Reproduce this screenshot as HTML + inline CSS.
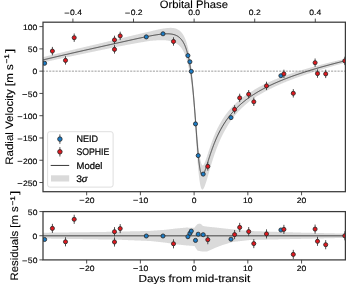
<!DOCTYPE html><html><head><meta charset="utf-8"><style>html,body{margin:0;padding:0;background:#fff;width:346px;height:284px;overflow:hidden}svg{display:block}text{font-family:"Liberation Sans",sans-serif;fill:#000;stroke:#000;stroke-width:0.22px;text-rendering:geometricPrecision}svg{will-change:transform}</style></head><body>
<svg width="346" height="284" viewBox="0 0 346 284">
<defs><clipPath id="cm"><rect x="43.0" y="22.2" width="302.4" height="169.5"/></clipPath><clipPath id="cr"><rect x="43.0" y="211.6" width="302.4" height="48.29999999999998"/></clipPath></defs>
<g clip-path="url(#cm)">
<polygon points="43.00,57.14 43.46,57.03 43.92,56.91 44.37,56.79 44.83,56.67 45.29,56.56 45.75,56.44 46.21,56.32 46.67,56.21 47.12,56.09 47.58,55.98 48.04,55.86 48.50,55.74 48.96,55.63 49.41,55.51 49.87,55.40 50.33,55.28 50.79,55.17 51.25,55.05 51.71,54.94 52.16,54.83 52.62,54.71 53.08,54.60 53.54,54.48 54.00,54.37 54.45,54.26 54.91,54.14 55.37,54.03 55.83,53.92 56.29,53.80 56.75,53.69 57.20,53.58 57.66,53.47 58.12,53.35 58.58,53.24 59.04,53.13 59.49,53.02 59.95,52.91 60.41,52.79 60.87,52.68 61.33,52.57 61.79,52.46 62.24,52.35 62.70,52.24 63.16,52.13 63.62,52.02 64.08,51.90 64.54,51.79 64.99,51.68 65.45,51.57 65.91,51.46 66.37,51.35 66.83,51.24 67.28,51.13 67.74,51.02 68.20,50.91 68.66,50.80 69.12,50.69 69.58,50.58 70.03,50.47 70.49,50.36 70.95,50.25 71.41,50.14 71.87,50.03 72.32,49.93 72.78,49.82 73.24,49.71 73.70,49.60 74.16,49.49 74.62,49.38 75.07,49.27 75.53,49.16 75.99,49.05 76.45,48.95 76.91,48.84 77.36,48.73 77.82,48.62 78.28,48.51 78.74,48.40 79.20,48.30 79.66,48.19 80.11,48.08 80.57,47.97 81.03,47.86 81.49,47.76 81.95,47.65 82.40,47.54 82.86,47.43 83.32,47.32 83.78,47.22 84.24,47.11 84.70,47.00 85.15,46.89 85.61,46.79 86.07,46.68 86.53,46.57 86.99,46.46 87.44,46.36 87.90,46.25 88.36,46.14 88.82,46.03 89.28,45.93 89.74,45.82 90.19,45.71 90.65,45.60 91.11,45.50 91.57,45.39 92.03,45.28 92.48,45.17 92.94,45.07 93.40,44.96 93.86,44.85 94.32,44.75 94.78,44.64 95.23,44.53 95.69,44.43 96.15,44.32 96.61,44.21 97.07,44.10 97.53,44.00 97.98,43.89 98.44,43.78 98.90,43.68 99.36,43.57 99.82,43.46 100.27,43.35 100.73,43.24 101.19,43.13 101.65,43.02 102.11,42.91 102.57,42.80 103.02,42.69 103.48,42.58 103.94,42.47 104.40,42.36 104.86,42.25 105.31,42.14 105.77,42.03 106.23,41.92 106.69,41.81 107.15,41.70 107.61,41.59 108.06,41.48 108.52,41.37 108.98,41.26 109.44,41.15 109.90,41.04 110.35,40.93 110.81,40.81 111.27,40.70 111.73,40.59 112.19,40.48 112.65,40.37 113.10,40.26 113.56,40.15 114.02,40.04 114.48,39.93 114.94,39.82 115.39,39.71 115.85,39.60 116.31,39.49 116.77,39.38 117.23,39.27 117.69,39.16 118.14,39.05 118.60,38.94 119.06,38.83 119.52,38.72 119.98,38.61 120.43,38.49 120.89,38.38 121.35,38.27 121.81,38.16 122.27,38.05 122.73,37.93 123.18,37.82 123.64,37.71 124.10,37.60 124.56,37.49 125.02,37.37 125.47,37.26 125.93,37.15 126.39,37.04 126.85,36.93 127.31,36.82 127.77,36.70 128.22,36.59 128.68,36.48 129.14,36.37 129.60,36.26 130.06,36.15 130.52,36.04 130.97,35.93 131.43,35.81 131.89,35.70 132.35,35.59 132.81,35.48 133.26,35.37 133.72,35.26 134.18,35.15 134.64,35.04 135.10,34.93 135.56,34.82 136.01,34.71 136.47,34.60 136.93,34.49 137.39,34.38 137.85,34.27 138.30,34.16 138.76,34.05 139.22,33.94 139.68,33.84 140.14,33.73 140.60,33.62 141.05,33.51 141.51,33.40 141.97,33.30 142.43,33.19 142.89,33.08 143.34,32.98 143.80,32.87 144.26,32.77 144.72,32.66 145.18,32.56 145.64,32.45 146.09,32.35 146.55,32.25 147.01,32.14 147.47,32.04 147.93,31.94 148.38,31.84 148.84,31.74 149.30,31.64 149.76,31.54 150.22,31.43 150.68,31.31 151.13,31.20 151.59,31.08 152.05,30.96 152.51,30.85 152.97,30.74 153.42,30.62 153.88,30.51 154.34,30.40 154.80,30.29 155.26,30.18 155.72,30.08 156.17,29.97 156.63,29.87 157.09,29.76 157.55,29.66 158.01,29.56 158.46,29.47 158.92,29.37 159.38,29.28 159.84,29.19 160.30,29.10 160.76,29.01 161.21,28.93 161.67,28.85 162.13,28.77 162.59,28.70 163.05,28.62 163.51,28.55 163.96,28.49 164.42,28.43 164.88,28.37 165.34,28.30 165.80,28.23 166.25,28.17 166.71,28.11 167.17,28.06 167.63,28.01 168.09,27.97 168.55,27.93 169.00,27.90 169.46,27.88 169.92,27.86 170.38,27.85 170.84,27.85 171.29,27.86 171.75,27.88 172.21,27.91 172.67,27.95 173.13,28.00 173.59,28.07 174.04,28.14 174.50,28.23 174.96,28.34 175.42,28.46 175.88,28.60 176.33,28.77 176.79,28.96 177.25,29.17 177.71,29.40 178.17,29.66 178.63,29.95 179.08,30.26 179.54,30.60 180.00,30.98 180.00,30.98 180.05,31.03 180.10,31.07 180.15,31.12 180.20,31.16 180.25,31.21 180.30,31.25 180.35,31.30 180.40,31.34 180.45,31.39 180.50,31.44 180.55,31.49 180.60,31.54 180.65,31.58 180.70,31.63 180.75,31.68 180.80,31.74 180.85,31.79 180.90,31.84 180.95,31.89 181.00,31.94 181.05,32.00 181.10,32.05 181.15,32.10 181.20,32.16 181.25,32.21 181.30,32.27 181.35,32.33 181.40,32.38 181.45,32.44 181.50,32.50 181.55,32.56 181.60,32.62 181.65,32.67 181.70,32.74 181.75,32.80 181.80,32.86 181.85,32.92 181.90,32.98 181.95,33.05 182.00,33.11 182.05,33.17 182.10,33.24 182.15,33.31 182.20,33.37 182.25,33.44 182.30,33.51 182.35,33.57 182.40,33.64 182.45,33.71 182.50,33.78 182.55,33.86 182.60,33.93 182.65,34.00 182.70,34.07 182.75,34.15 182.80,34.22 182.85,34.30 182.90,34.37 182.95,34.45 183.00,34.53 183.05,34.61 183.10,34.68 183.15,34.76 183.20,34.84 183.25,34.93 183.30,35.01 183.35,35.09 183.40,35.18 183.45,35.26 183.51,35.35 183.56,35.43 183.61,35.52 183.66,35.61 183.71,35.70 183.76,35.78 183.81,35.88 183.86,35.97 183.91,36.06 183.96,36.15 184.01,36.25 184.06,36.34 184.11,36.44 184.16,36.53 184.21,36.63 184.26,36.73 184.31,36.83 184.36,36.93 184.41,37.03 184.46,37.13 184.51,37.24 184.56,37.34 184.61,37.45 184.66,37.55 184.71,37.66 184.76,37.77 184.81,37.88 184.86,37.99 184.91,38.10 184.96,38.22 185.01,38.33 185.06,38.45 185.11,38.56 185.16,38.68 185.21,38.80 185.26,38.92 185.31,39.04 185.36,39.16 185.41,39.28 185.46,39.41 185.51,39.53 185.56,39.66 185.61,39.79 185.66,39.92 185.71,40.05 185.76,40.18 185.81,40.31 185.86,40.45 185.91,40.59 185.96,40.72 186.01,40.86 186.06,41.01 186.11,41.15 186.16,41.30 186.21,41.45 186.26,41.60 186.31,41.75 186.36,41.90 186.41,42.06 186.46,42.21 186.51,42.37 186.56,42.53 186.61,42.69 186.66,42.85 186.71,43.02 186.76,43.18 186.81,43.35 186.86,43.52 186.91,43.69 186.96,43.86 187.01,44.03 187.06,44.21 187.11,44.38 187.16,44.56 187.21,44.74 187.26,44.92 187.31,45.10 187.36,45.29 187.41,45.48 187.46,45.67 187.51,45.86 187.56,46.05 187.61,46.24 187.66,46.44 187.71,46.64 187.76,46.84 187.81,47.04 187.86,47.24 187.91,47.45 187.96,47.66 188.01,47.86 188.06,48.08 188.11,48.29 188.16,48.51 188.21,48.72 188.26,48.94 188.31,49.17 188.36,49.39 188.41,49.62 188.46,49.85 188.51,50.08 188.56,50.31 188.61,50.55 188.66,50.78 188.71,51.02 188.76,51.27 188.81,51.51 188.86,51.76 188.91,52.01 188.96,52.26 189.01,52.51 189.06,52.77 189.11,53.03 189.16,53.29 189.21,53.55 189.26,53.82 189.31,54.09 189.36,54.36 189.41,54.64 189.46,54.92 189.51,55.20 189.56,55.48 189.61,55.76 189.66,56.05 189.71,56.34 189.76,56.64 189.81,56.93 189.86,57.23 189.91,57.53 189.96,57.84 190.01,58.15 190.06,58.46 190.11,58.77 190.16,59.09 190.21,59.41 190.26,59.73 190.31,60.06 190.36,60.39 190.41,60.72 190.46,61.06 190.52,61.40 190.57,61.74 190.62,62.08 190.67,62.43 190.72,62.78 190.77,63.14 190.82,63.50 190.87,63.86 190.92,64.23 190.97,64.59 191.02,64.97 191.07,65.34 191.12,65.72 191.17,66.10 191.22,66.49 191.27,66.88 191.32,67.27 191.37,67.67 191.42,68.07 191.47,68.47 191.52,68.88 191.57,69.29 191.62,69.71 191.67,70.13 191.72,70.55 191.77,70.97 191.82,71.40 191.87,71.84 191.92,72.28 191.97,72.72 192.02,73.16 192.07,73.61 192.12,74.07 192.17,74.52 192.22,74.98 192.27,75.45 192.32,75.92 192.37,76.39 192.42,76.87 192.47,77.35 192.52,77.83 192.57,78.32 192.62,78.81 192.67,79.31 192.72,79.81 192.77,80.31 192.82,80.82 192.87,81.33 192.92,81.85 192.97,82.37 193.02,82.89 193.07,83.42 193.12,83.95 193.17,84.49 193.22,85.03 193.27,85.57 193.32,86.12 193.37,86.67 193.42,87.23 193.47,87.79 193.52,88.35 193.57,88.92 193.62,89.49 193.67,90.06 193.72,90.64 193.77,91.22 193.82,91.81 193.87,92.40 193.92,92.99 193.97,93.58 194.02,94.18 194.07,94.79 194.12,95.39 194.17,96.00 194.22,96.62 194.27,97.23 194.32,97.85 194.37,98.48 194.42,99.10 194.47,99.73 194.52,100.34 194.57,100.91 194.62,101.48 194.67,102.05 194.72,102.63 194.77,103.21 194.82,103.79 194.87,104.37 194.92,104.96 194.97,105.55 195.02,106.14 195.07,106.73 195.12,107.33 195.17,107.92 195.22,108.52 195.27,109.12 195.32,109.73 195.37,110.33 195.42,110.93 195.47,111.54 195.52,112.15 195.57,112.75 195.62,113.36 195.67,113.97 195.72,114.59 195.77,115.22 195.82,115.85 195.87,116.47 195.92,117.10 195.97,117.73 196.02,118.36 196.07,118.98 196.12,119.61 196.17,120.24 196.22,120.86 196.27,121.49 196.32,122.11 196.37,122.73 196.42,123.35 196.47,123.97 196.52,124.59 196.57,125.21 196.62,125.82 196.67,126.43 196.72,127.04 196.77,127.65 196.82,128.26 196.87,128.86 196.92,129.46 196.97,130.05 197.02,130.65 197.07,131.24 197.12,131.82 197.17,132.40 197.22,132.98 197.27,133.56 197.32,134.13 197.37,134.70 197.42,135.28 197.47,135.87 197.53,136.45 197.58,137.04 197.63,137.61 197.68,138.19 197.73,138.75 197.78,139.32 197.83,139.87 197.88,140.43 197.93,140.97 197.98,141.51 198.03,142.05 198.08,142.57 198.13,143.10 198.18,143.61 198.23,144.12 198.28,144.63 198.33,145.12 198.38,145.62 198.43,146.10 198.48,146.58 198.53,147.05 198.58,147.51 198.63,147.97 198.68,148.42 198.73,148.86 198.78,149.30 198.83,149.73 198.88,150.15 198.93,150.57 198.98,150.97 199.03,151.37 199.08,151.77 199.13,152.15 199.18,152.53 199.23,152.92 199.28,153.31 199.33,153.69 199.38,154.06 199.43,154.43 199.48,154.79 199.53,155.14 199.58,155.49 199.63,155.83 199.68,156.16 199.73,156.48 199.78,156.80 199.83,157.10 199.88,157.40 199.93,157.70 199.98,157.98 200.03,158.26 200.08,158.54 200.13,158.80 200.18,159.06 200.23,159.31 200.28,159.55 200.33,159.79 200.38,160.02 200.43,160.24 200.48,160.46 200.53,160.67 200.58,160.87 200.63,161.07 200.68,161.26 200.73,161.44 200.78,161.61 200.83,161.78 200.88,161.95 200.93,162.11 200.98,162.26 201.03,162.42 201.08,162.60 201.13,162.77 201.18,162.93 201.23,163.09 201.28,163.24 201.33,163.39 201.38,163.53 201.43,163.66 201.48,163.79 201.53,163.91 201.58,164.03 201.63,164.14 201.68,164.25 201.73,164.36 201.78,164.45 201.83,164.55 201.88,164.63 201.93,164.72 201.98,164.80 202.03,164.87 202.08,164.94 202.13,165.01 202.18,165.07 202.23,165.12 202.28,165.17 202.33,165.22 202.38,165.27 202.43,165.30 202.48,165.34 202.53,165.37 202.58,165.40 202.63,165.42 202.68,165.45 202.73,165.46 202.78,165.48 202.83,165.49 202.88,165.49 202.93,165.50 202.98,165.50 203.03,165.47 203.08,165.42 203.13,165.37 203.18,165.32 203.23,165.26 203.28,165.21 203.33,165.15 203.38,165.08 203.43,165.02 203.48,164.95 203.53,164.88 203.58,164.80 203.63,164.73 203.68,164.65 203.73,164.57 203.78,164.48 203.83,164.40 203.88,164.31 203.93,164.22 203.98,164.13 204.03,164.03 204.08,163.94 204.13,163.84 204.18,163.74 204.23,163.64 204.28,163.54 204.33,163.43 204.38,163.32 204.43,163.21 204.48,163.10 204.54,162.99 204.59,162.88 204.64,162.76 204.69,162.65 204.74,162.53 204.79,162.41 204.84,162.29 204.89,162.17 204.94,162.05 204.99,161.92 205.04,161.80 205.09,161.67 205.14,161.54 205.19,161.41 205.24,161.28 205.29,161.15 205.34,161.02 205.39,160.89 205.44,160.76 205.49,160.62 205.54,160.49 205.59,160.35 205.64,160.21 205.69,160.07 205.74,159.94 205.79,159.80 205.84,159.66 205.89,159.51 205.94,159.37 205.99,159.23 206.04,159.09 206.09,158.95 206.14,158.80 206.19,158.66 206.24,158.51 206.29,158.37 206.34,158.22 206.39,158.08 206.44,157.93 206.49,157.78 206.54,157.63 206.59,157.49 206.64,157.34 206.69,157.19 206.74,157.04 206.79,156.89 206.84,156.74 206.89,156.59 206.94,156.44 206.99,156.29 207.04,156.14 207.09,155.99 207.14,155.83 207.19,155.68 207.24,155.53 207.29,155.38 207.34,155.22 207.39,155.07 207.44,154.92 207.49,154.76 207.54,154.61 207.59,154.46 207.64,154.30 207.69,154.15 207.74,153.99 207.79,153.84 207.84,153.69 207.89,153.53 207.94,153.38 207.99,153.22 208.04,153.07 208.09,152.92 208.14,152.76 208.19,152.61 208.24,152.46 208.29,152.30 208.34,152.15 208.39,151.99 208.44,151.84 208.49,151.69 208.54,151.53 208.59,151.38 208.64,151.23 208.69,151.08 208.74,150.92 208.79,150.77 208.84,150.62 208.89,150.47 208.94,150.31 208.99,150.16 209.04,150.01 209.09,149.86 209.14,149.71 209.19,149.56 209.24,149.40 209.29,149.25 209.34,149.10 209.39,148.95 209.44,148.80 209.49,148.65 209.54,148.50 209.59,148.35 209.64,148.20 209.69,148.05 209.74,147.90 209.79,147.76 209.84,147.61 209.89,147.46 209.94,147.31 209.99,147.16 210.04,147.02 210.09,146.87 210.14,146.72 210.19,146.58 210.24,146.43 210.29,146.28 210.34,146.14 210.39,145.99 210.44,145.85 210.49,145.70 210.54,145.56 210.59,145.41 210.64,145.26 210.69,145.12 210.74,144.98 210.79,144.83 210.84,144.69 210.89,144.54 210.94,144.40 210.99,144.26 211.04,144.11 211.09,143.97 211.14,143.83 211.19,143.69 211.24,143.54 211.29,143.40 211.34,143.26 211.39,143.12 211.44,142.98 211.49,142.84 211.55,142.70 211.60,142.56 211.65,142.42 211.70,142.28 211.75,142.15 211.80,142.01 211.85,141.87 211.90,141.73 211.95,141.59 212.00,141.46 212.05,141.32 212.10,141.18 212.15,141.05 212.20,140.91 212.25,140.78 212.30,140.64 212.35,140.51 212.40,140.37 212.45,140.24 212.50,140.11 212.55,139.97 212.60,139.84 212.65,139.71 212.70,139.57 212.75,139.44 212.80,139.31 212.85,139.18 212.90,139.05 212.95,138.92 213.00,138.79 213.05,138.66 213.10,138.53 213.15,138.40 213.20,138.27 213.25,138.14 213.30,138.01 213.35,137.88 213.40,137.75 213.45,137.63 213.50,137.50 213.55,137.37 213.60,137.25 213.65,137.12 213.70,136.99 213.75,136.87 213.80,136.74 213.85,136.62 213.90,136.49 213.95,136.37 214.00,136.24 214.05,136.12 214.10,136.00 214.15,135.87 214.20,135.75 214.25,135.63 214.30,135.51 214.35,135.38 214.40,135.26 214.45,135.14 214.50,135.02 214.55,134.90 214.60,134.78 214.65,134.66 214.70,134.54 214.75,134.42 214.80,134.30 214.85,134.18 214.90,134.07 214.95,133.95 215.00,133.83 215.00,133.83 215.44,132.82 215.87,131.83 216.31,130.87 216.74,129.93 217.18,129.02 217.62,128.12 218.05,127.25 218.49,126.40 218.93,125.56 219.36,124.75 219.80,123.95 220.23,123.17 220.67,122.40 221.11,121.66 221.54,120.93 221.98,120.21 222.41,119.51 222.85,118.82 223.29,118.14 223.72,117.48 224.16,116.83 224.59,116.19 225.03,115.57 225.47,114.96 225.90,114.36 226.34,113.77 226.78,113.20 227.21,112.63 227.65,112.07 228.08,111.53 228.52,110.99 228.96,110.47 229.39,109.95 229.83,109.44 230.26,108.95 230.70,108.46 231.14,107.97 231.57,107.50 232.01,107.03 232.44,106.58 232.88,106.13 233.32,105.68 233.75,105.24 234.19,104.80 234.63,104.37 235.06,103.95 235.50,103.54 235.93,103.13 236.37,102.72 236.81,102.33 237.24,101.94 237.68,101.55 238.11,101.17 238.55,100.80 238.99,100.43 239.42,100.06 239.86,99.71 240.29,99.35 240.73,99.00 241.17,98.66 241.60,98.32 242.04,97.98 242.48,97.65 242.91,97.33 243.35,97.00 243.78,96.69 244.22,96.37 244.66,96.06 245.09,95.75 245.53,95.45 245.96,95.15 246.40,94.86 246.84,94.57 247.27,94.28 247.71,93.99 248.15,93.71 248.58,93.43 249.02,93.16 249.45,92.89 249.89,92.62 250.33,92.34 250.76,92.05 251.20,91.76 251.63,91.48 252.07,91.20 252.51,90.93 252.94,90.65 253.38,90.38 253.81,90.11 254.25,89.85 254.69,89.59 255.12,89.32 255.56,89.07 256.00,88.81 256.43,88.56 256.87,88.31 257.30,88.06 257.74,87.81 258.18,87.57 258.61,87.32 259.05,87.08 259.48,86.85 259.92,86.61 260.36,86.38 260.79,86.14 261.23,85.91 261.66,85.69 262.10,85.46 262.54,85.23 262.97,85.01 263.41,84.79 263.85,84.57 264.28,84.36 264.72,84.14 265.15,83.93 265.59,83.71 266.03,83.50 266.46,83.29 266.90,83.09 267.33,82.88 267.77,82.68 268.21,82.47 268.64,82.27 269.08,82.07 269.52,81.87 269.95,81.68 270.39,81.48 270.82,81.29 271.26,81.10 271.70,80.90 272.13,80.71 272.57,80.53 273.00,80.34 273.44,80.15 273.88,79.97 274.31,79.78 274.75,79.60 275.18,79.42 275.62,79.24 276.06,79.06 276.49,78.88 276.93,78.71 277.37,78.53 277.80,78.36 278.24,78.18 278.67,78.01 279.11,77.84 279.55,77.67 279.98,77.50 280.42,77.33 280.85,77.17 281.29,77.00 281.73,76.84 282.16,76.67 282.60,76.51 283.03,76.35 283.47,76.19 283.91,76.03 284.34,75.87 284.78,75.71 285.22,75.55 285.65,75.40 286.09,75.24 286.52,75.08 286.96,74.93 287.40,74.78 287.83,74.63 288.27,74.47 288.70,74.32 289.14,74.17 289.58,74.02 290.01,73.88 290.45,73.73 290.88,73.58 291.32,73.44 291.76,73.29 292.19,73.15 292.63,73.00 293.07,72.86 293.50,72.72 293.94,72.57 294.37,72.43 294.81,72.29 295.25,72.15 295.68,72.01 296.12,71.88 296.55,71.74 296.99,71.60 297.43,71.47 297.86,71.33 298.30,71.19 298.74,71.06 299.17,70.93 299.61,70.79 300.04,70.66 300.48,70.52 300.92,70.39 301.35,70.25 301.79,70.12 302.22,69.98 302.66,69.85 303.10,69.72 303.53,69.59 303.97,69.46 304.40,69.32 304.84,69.19 305.28,69.06 305.71,68.93 306.15,68.81 306.59,68.68 307.02,68.55 307.46,68.42 307.89,68.29 308.33,68.17 308.77,68.04 309.20,67.92 309.64,67.79 310.07,67.67 310.51,67.54 310.95,67.42 311.38,67.30 311.82,67.17 312.25,67.05 312.69,66.93 313.13,66.81 313.56,66.69 314.00,66.57 314.44,66.44 314.87,66.33 315.31,66.21 315.74,66.09 316.18,65.97 316.62,65.85 317.05,65.73 317.49,65.61 317.92,65.50 318.36,65.38 318.80,65.26 319.23,65.15 319.67,65.03 320.11,64.92 320.54,64.80 320.98,64.69 321.41,64.57 321.85,64.46 322.29,64.35 322.72,64.23 323.16,64.12 323.59,64.01 324.03,63.90 324.47,63.79 324.90,63.67 325.34,63.56 325.77,63.45 326.21,63.34 326.65,63.23 327.08,63.12 327.52,63.01 327.96,62.90 328.39,62.79 328.83,62.69 329.26,62.58 329.70,62.47 330.14,62.36 330.57,62.25 331.01,62.15 331.44,62.04 331.88,61.93 332.32,61.83 332.75,61.72 333.19,61.61 333.62,61.51 334.06,61.40 334.50,61.30 334.93,61.19 335.37,61.09 335.81,60.98 336.24,60.88 336.68,60.78 337.11,60.67 337.55,60.57 337.99,60.47 338.42,60.36 338.86,60.26 339.29,60.16 339.73,60.06 340.17,59.95 340.60,59.85 341.04,59.75 341.47,59.65 341.91,59.55 342.35,59.45 342.78,59.35 343.22,59.25 343.66,59.15 344.09,59.05 344.53,58.95 344.96,58.85 345.40,58.74 345.40,62.74 344.96,62.85 344.53,62.96 344.09,63.08 343.66,63.20 343.22,63.32 342.78,63.44 342.35,63.55 341.91,63.67 341.47,63.79 341.04,63.91 340.60,64.03 340.17,64.15 339.73,64.27 339.29,64.39 338.86,64.51 338.42,64.63 337.99,64.75 337.55,64.87 337.11,65.00 336.68,65.12 336.24,65.24 335.81,65.36 335.37,65.48 334.93,65.61 334.50,65.73 334.06,65.85 333.62,65.98 333.19,66.10 332.75,66.22 332.32,66.35 331.88,66.47 331.44,66.60 331.01,66.72 330.57,66.85 330.14,66.97 329.70,67.10 329.26,67.22 328.83,67.35 328.39,67.48 327.96,67.60 327.52,67.73 327.08,67.86 326.65,67.99 326.21,68.11 325.77,68.24 325.34,68.37 324.90,68.50 324.47,68.63 324.03,68.76 323.59,68.89 323.16,69.02 322.72,69.15 322.29,69.28 321.85,69.41 321.41,69.55 320.98,69.68 320.54,69.81 320.11,69.94 319.67,70.08 319.23,70.21 318.80,70.34 318.36,70.48 317.92,70.61 317.49,70.75 317.05,70.88 316.62,71.02 316.18,71.16 315.74,71.29 315.31,71.43 314.87,71.57 314.44,71.70 314.00,71.84 313.56,71.98 313.13,72.12 312.69,72.26 312.25,72.40 311.82,72.54 311.38,72.68 310.95,72.82 310.51,72.96 310.07,73.11 309.64,73.25 309.20,73.39 308.77,73.54 308.33,73.68 307.89,73.82 307.46,73.97 307.02,74.11 306.59,74.26 306.15,74.41 305.71,74.55 305.28,74.70 304.84,74.85 304.40,75.00 303.97,75.15 303.53,75.30 303.10,75.45 302.66,75.60 302.22,75.75 301.79,75.90 301.35,76.05 300.92,76.21 300.48,76.36 300.04,76.51 299.61,76.67 299.17,76.82 298.74,76.98 298.30,77.14 297.86,77.29 297.43,77.45 296.99,77.61 296.55,77.77 296.12,77.93 295.68,78.09 295.25,78.25 294.81,78.41 294.37,78.57 293.94,78.73 293.50,78.90 293.07,79.06 292.63,79.23 292.19,79.39 291.76,79.56 291.32,79.73 290.88,79.89 290.45,80.06 290.01,80.23 289.58,80.40 289.14,80.57 288.70,80.75 288.27,80.92 287.83,81.09 287.40,81.27 286.96,81.44 286.52,81.62 286.09,81.79 285.65,81.97 285.22,82.15 284.78,82.33 284.34,82.51 283.91,82.69 283.47,82.87 283.03,83.06 282.60,83.24 282.16,83.42 281.73,83.61 281.29,83.80 280.85,83.98 280.42,84.17 279.98,84.36 279.55,84.55 279.11,84.75 278.67,84.94 278.24,85.13 277.80,85.33 277.37,85.52 276.93,85.72 276.49,85.92 276.06,86.12 275.62,86.32 275.18,86.52 274.75,86.72 274.31,86.93 273.88,87.13 273.44,87.34 273.00,87.55 272.57,87.76 272.13,87.97 271.70,88.18 271.26,88.39 270.82,88.61 270.39,88.82 269.95,89.04 269.52,89.26 269.08,89.48 268.64,89.70 268.21,89.93 267.77,90.15 267.33,90.38 266.90,90.60 266.46,90.83 266.03,91.06 265.59,91.30 265.15,91.53 264.72,91.77 264.28,92.00 263.85,92.24 263.41,92.48 262.97,92.73 262.54,92.97 262.10,93.22 261.66,93.46 261.23,93.71 260.79,93.97 260.36,94.22 259.92,94.48 259.48,94.73 259.05,94.99 258.61,95.26 258.18,95.52 257.74,95.79 257.30,96.06 256.87,96.33 256.43,96.60 256.00,96.87 255.56,97.15 255.12,97.43 254.69,97.72 254.25,98.00 253.81,98.29 253.38,98.58 252.94,98.87 252.51,99.17 252.07,99.46 251.63,99.76 251.20,100.07 250.76,100.38 250.33,100.68 249.89,101.01 249.45,101.36 249.02,101.71 248.58,102.07 248.15,102.43 247.71,102.80 247.27,103.17 246.84,103.54 246.40,103.91 245.96,104.29 245.53,104.67 245.09,105.06 244.66,105.45 244.22,105.84 243.78,106.24 243.35,106.64 242.91,107.05 242.48,107.46 242.04,107.87 241.60,108.29 241.17,108.71 240.73,109.14 240.29,109.57 239.86,110.01 239.42,110.45 238.99,110.90 238.55,111.35 238.11,111.81 237.68,112.27 237.24,112.74 236.81,113.22 236.37,113.70 235.93,114.18 235.50,114.68 235.06,115.18 234.63,115.68 234.19,116.19 233.75,116.71 233.32,117.24 232.88,117.79 232.44,118.41 232.01,119.03 231.57,119.66 231.14,120.30 230.70,120.95 230.26,121.60 229.83,122.27 229.39,122.94 228.96,123.62 228.52,124.32 228.08,125.02 227.65,125.73 227.21,126.45 226.78,127.18 226.34,127.92 225.90,128.68 225.47,129.44 225.03,130.22 224.59,131.01 224.16,131.81 223.72,132.62 223.29,133.45 222.85,134.29 222.41,135.15 221.98,136.02 221.54,136.94 221.11,137.87 220.67,138.82 220.23,139.79 219.80,140.77 219.36,141.77 218.93,142.79 218.49,143.83 218.05,144.89 217.62,145.96 217.18,147.06 216.74,148.18 216.31,149.31 215.87,150.48 215.44,151.69 215.00,152.93 215.00,152.93 214.95,153.07 214.90,153.21 214.85,153.36 214.80,153.50 214.75,153.64 214.70,153.79 214.65,153.93 214.60,154.08 214.55,154.23 214.50,154.37 214.45,154.52 214.40,154.66 214.35,154.81 214.30,154.96 214.25,155.11 214.20,155.25 214.15,155.40 214.10,155.55 214.05,155.70 214.00,155.85 213.95,156.00 213.90,156.15 213.85,156.30 213.80,156.45 213.75,156.60 213.70,156.75 213.65,156.90 213.60,157.05 213.55,157.20 213.50,157.36 213.45,157.51 213.40,157.66 213.35,157.82 213.30,157.97 213.25,158.12 213.20,158.28 213.15,158.43 213.10,158.59 213.05,158.74 213.00,158.90 212.95,159.05 212.90,159.21 212.85,159.37 212.80,159.52 212.75,159.68 212.70,159.84 212.65,160.00 212.60,160.15 212.55,160.31 212.50,160.47 212.45,160.63 212.40,160.79 212.35,160.95 212.30,161.11 212.25,161.27 212.20,161.43 212.15,161.59 212.10,161.75 212.05,161.91 212.00,162.08 211.95,162.24 211.90,162.40 211.85,162.56 211.80,162.73 211.75,162.89 211.70,163.06 211.65,163.22 211.60,163.38 211.55,163.55 211.49,163.71 211.44,163.88 211.39,164.05 211.34,164.21 211.29,164.38 211.24,164.54 211.19,164.71 211.14,164.88 211.09,165.05 211.04,165.22 210.99,165.38 210.94,165.55 210.89,165.72 210.84,165.89 210.79,166.06 210.74,166.23 210.69,166.40 210.64,166.57 210.59,166.74 210.54,166.91 210.49,167.08 210.44,167.25 210.39,167.42 210.34,167.59 210.29,167.77 210.24,167.94 210.19,168.11 210.14,168.28 210.09,168.45 210.04,168.62 209.99,168.80 209.94,168.97 209.89,169.14 209.84,169.32 209.79,169.49 209.74,169.66 209.69,169.84 209.64,170.01 209.59,170.19 209.54,170.36 209.49,170.54 209.44,170.71 209.39,170.89 209.34,171.06 209.29,171.24 209.24,171.42 209.19,171.59 209.14,171.77 209.09,171.95 209.04,172.12 208.99,172.30 208.94,172.48 208.89,172.65 208.84,172.83 208.79,173.01 208.74,173.19 208.69,173.37 208.64,173.54 208.59,173.72 208.54,173.90 208.49,174.08 208.44,174.26 208.39,174.44 208.34,174.62 208.29,174.79 208.24,174.97 208.19,175.15 208.14,175.33 208.09,175.51 208.04,175.69 207.99,175.87 207.94,176.05 207.89,176.23 207.84,176.41 207.79,176.58 207.74,176.76 207.69,176.94 207.64,177.12 207.59,177.30 207.54,177.48 207.49,177.66 207.44,177.84 207.39,178.02 207.34,178.20 207.29,178.37 207.24,178.55 207.19,178.73 207.14,178.91 207.09,179.09 207.04,179.26 206.99,179.44 206.94,179.60 206.89,179.75 206.84,179.91 206.79,180.07 206.74,180.23 206.69,180.38 206.64,180.54 206.59,180.70 206.54,180.85 206.49,181.01 206.44,181.16 206.39,181.32 206.34,181.47 206.29,181.63 206.24,181.78 206.19,181.93 206.14,182.09 206.09,182.24 206.04,182.39 205.99,182.54 205.94,182.69 205.89,182.84 205.84,182.99 205.79,183.14 205.74,183.28 205.69,183.43 205.64,183.58 205.59,183.72 205.54,183.87 205.49,184.01 205.44,184.15 205.39,184.29 205.34,184.44 205.29,184.58 205.24,184.71 205.19,184.85 205.14,184.99 205.09,185.13 205.04,185.26 204.99,185.39 204.94,185.53 204.89,185.66 204.84,185.79 204.79,185.92 204.74,186.04 204.69,186.17 204.64,186.29 204.59,186.42 204.54,186.54 204.48,186.66 204.43,186.78 204.38,186.89 204.33,187.01 204.28,187.12 204.23,187.23 204.18,187.34 204.13,187.45 204.08,187.56 204.03,187.66 203.98,187.76 203.93,187.86 203.88,187.96 203.83,188.06 203.78,188.15 203.73,188.24 203.68,188.33 203.63,188.42 203.58,188.50 203.53,188.58 203.48,188.66 203.43,188.74 203.38,188.81 203.33,188.89 203.28,188.95 203.23,189.02 203.18,189.08 203.13,189.14 203.08,189.20 203.03,189.25 202.98,189.30 202.93,189.34 202.88,189.38 202.83,189.41 202.78,189.44 202.73,189.47 202.68,189.49 202.63,189.51 202.58,189.52 202.53,189.54 202.48,189.54 202.43,189.55 202.38,189.55 202.33,189.54 202.28,189.54 202.23,189.52 202.18,189.51 202.13,189.49 202.08,189.46 202.03,189.43 201.98,189.40 201.93,189.36 201.88,189.31 201.83,189.26 201.78,189.21 201.73,189.15 201.68,189.09 201.63,189.02 201.58,188.95 201.53,188.87 201.48,188.78 201.43,188.69 201.38,188.60 201.33,188.50 201.28,188.39 201.23,188.28 201.18,188.16 201.13,188.04 201.08,187.91 201.03,187.77 200.98,187.63 200.93,187.48 200.88,187.33 200.83,187.17 200.78,187.00 200.73,186.83 200.68,186.65 200.63,186.46 200.58,186.27 200.53,186.07 200.48,185.86 200.43,185.65 200.38,185.43 200.33,185.20 200.28,184.96 200.23,184.72 200.18,184.48 200.13,184.22 200.08,183.96 200.03,183.69 199.98,183.41 199.93,183.13 199.88,182.84 199.83,182.54 199.78,182.23 199.73,181.92 199.68,181.60 199.63,181.27 199.58,180.94 199.53,180.59 199.48,180.24 199.43,179.89 199.38,179.52 199.33,179.15 199.28,178.77 199.23,178.38 199.18,177.99 199.13,177.58 199.08,177.16 199.03,176.74 198.98,176.31 198.93,175.88 198.88,175.43 198.83,174.98 198.78,174.53 198.73,174.06 198.68,173.59 198.63,173.11 198.58,172.63 198.53,172.13 198.48,171.63 198.43,171.13 198.38,170.61 198.33,170.10 198.28,169.57 198.23,169.04 198.18,168.50 198.13,167.95 198.08,167.40 198.03,166.85 197.98,166.28 197.93,165.71 197.88,165.14 197.83,164.56 197.78,163.98 197.73,163.38 197.68,162.79 197.63,162.19 197.58,161.58 197.53,160.97 197.47,160.35 197.42,159.73 197.37,159.08 197.32,158.40 197.27,157.71 197.22,157.02 197.17,156.32 197.12,155.62 197.07,154.91 197.02,154.21 196.97,153.50 196.92,152.78 196.87,152.07 196.82,151.35 196.77,150.62 196.72,149.90 196.67,149.17 196.62,148.44 196.57,147.71 196.52,146.98 196.47,146.24 196.42,145.50 196.37,144.76 196.32,144.02 196.27,143.28 196.22,142.54 196.17,141.80 196.12,141.05 196.07,140.31 196.02,139.56 195.97,138.82 195.92,138.07 195.87,137.33 195.82,136.58 195.77,135.84 195.72,135.09 195.67,134.34 195.62,133.59 195.57,132.84 195.52,132.08 195.47,131.33 195.42,130.59 195.37,129.84 195.32,129.09 195.27,128.34 195.22,127.60 195.17,126.86 195.12,126.12 195.07,125.38 195.02,124.64 194.97,123.91 194.92,123.18 194.87,122.45 194.82,121.72 194.77,120.99 194.72,120.27 194.67,119.55 194.62,118.83 194.57,118.12 194.52,117.41 194.47,116.74 194.42,116.11 194.37,115.48 194.32,114.85 194.27,114.23 194.22,113.61 194.17,113.00 194.12,112.38 194.07,111.77 194.02,111.17 193.97,110.56 193.92,109.97 193.87,109.37 193.82,108.78 193.77,108.19 193.72,107.61 193.67,107.02 193.62,106.45 193.57,105.87 193.52,105.30 193.47,104.74 193.42,104.18 193.37,103.62 193.32,103.06 193.27,102.51 193.22,101.97 193.17,101.42 193.12,100.89 193.07,100.35 193.02,99.82 192.97,99.29 192.92,98.77 192.87,98.25 192.82,97.74 192.77,97.23 192.72,96.72 192.67,96.22 192.62,95.72 192.57,95.22 192.52,94.73 192.47,94.24 192.42,93.76 192.37,93.28 192.32,92.81 192.27,92.33 192.22,91.87 192.17,91.40 192.12,90.94 192.07,90.49 192.02,90.04 191.97,89.59 191.92,89.14 191.87,88.70 191.82,88.27 191.77,87.83 191.72,87.41 191.67,86.98 191.62,86.56 191.57,86.14 191.52,85.73 191.47,85.32 191.42,84.91 191.37,84.51 191.32,84.11 191.27,83.71 191.22,83.32 191.17,82.93 191.12,82.54 191.07,82.16 191.02,81.78 190.97,81.41 190.92,81.04 190.87,80.67 190.82,80.31 190.77,79.94 190.72,79.59 190.67,79.23 190.62,78.88 190.57,78.53 190.52,78.19 190.46,77.85 190.41,77.51 190.36,77.17 190.31,76.84 190.26,76.51 190.21,76.19 190.16,75.86 190.11,75.54 190.06,75.23 190.01,74.91 189.96,74.60 189.91,74.29 189.86,73.99 189.81,73.69 189.76,73.39 189.71,73.09 189.66,72.80 189.61,72.51 189.56,72.22 189.51,71.93 189.46,71.65 189.41,71.37 189.36,71.09 189.31,70.82 189.26,70.54 189.21,70.27 189.16,70.01 189.11,69.74 189.06,69.48 189.01,69.22 188.96,68.96 188.91,68.71 188.86,68.46 188.81,68.21 188.76,67.96 188.71,67.72 188.66,67.47 188.61,67.23 188.56,66.99 188.51,66.76 188.46,66.52 188.41,66.29 188.36,66.06 188.31,65.84 188.26,65.61 188.21,65.39 188.16,65.17 188.11,64.95 188.06,64.73 188.01,64.52 187.96,64.31 187.91,64.10 187.86,63.89 187.81,63.68 187.76,63.48 187.71,63.27 187.66,63.07 187.61,62.87 187.56,62.68 187.51,62.48 187.46,62.29 187.41,62.10 187.36,61.91 187.31,61.72 187.26,61.53 187.21,61.35 187.16,61.17 187.11,60.99 187.06,60.81 187.01,60.63 186.96,60.45 186.91,60.28 186.86,60.11 186.81,59.94 186.76,59.77 186.71,59.60 186.66,59.43 186.61,59.27 186.56,59.10 186.51,58.94 186.46,58.78 186.41,58.62 186.36,58.47 186.31,58.31 186.26,58.16 186.21,58.00 186.16,57.85 186.11,57.70 186.06,57.55 186.01,57.41 185.96,57.26 185.91,57.11 185.86,56.97 185.81,56.82 185.76,56.68 185.71,56.54 185.66,56.40 185.61,56.26 185.56,56.12 185.51,55.99 185.46,55.85 185.41,55.72 185.36,55.59 185.31,55.45 185.26,55.32 185.21,55.20 185.16,55.07 185.11,54.94 185.06,54.82 185.01,54.69 184.96,54.57 184.91,54.44 184.86,54.32 184.81,54.20 184.76,54.08 184.71,53.97 184.66,53.85 184.61,53.73 184.56,53.62 184.51,53.50 184.46,53.39 184.41,53.28 184.36,53.17 184.31,53.06 184.26,52.95 184.21,52.84 184.16,52.74 184.11,52.63 184.06,52.52 184.01,52.42 183.96,52.32 183.91,52.21 183.86,52.11 183.81,52.01 183.76,51.91 183.71,51.81 183.66,51.71 183.61,51.62 183.56,51.52 183.51,51.43 183.45,51.33 183.40,51.24 183.35,51.14 183.30,51.05 183.25,50.96 183.20,50.87 183.15,50.78 183.10,50.69 183.05,50.60 183.00,50.51 182.95,50.43 182.90,50.34 182.85,50.26 182.80,50.17 182.75,50.09 182.70,50.00 182.65,49.92 182.60,49.84 182.55,49.76 182.50,49.68 182.45,49.60 182.40,49.52 182.35,49.44 182.30,49.36 182.25,49.29 182.20,49.21 182.15,49.13 182.10,49.06 182.05,48.98 182.00,48.91 181.95,48.84 181.90,48.77 181.85,48.69 181.80,48.62 181.75,48.55 181.70,48.48 181.65,48.41 181.60,48.34 181.55,48.27 181.50,48.21 181.45,48.14 181.40,48.07 181.35,48.01 181.30,47.94 181.25,47.87 181.20,47.81 181.15,47.75 181.10,47.68 181.05,47.62 181.00,47.56 180.95,47.50 180.90,47.43 180.85,47.37 180.80,47.31 180.75,47.25 180.70,47.19 180.65,47.13 180.60,47.08 180.55,47.02 180.50,46.96 180.45,46.90 180.40,46.85 180.35,46.79 180.30,46.74 180.25,46.68 180.20,46.63 180.15,46.57 180.10,46.52 180.05,46.47 180.00,46.41 180.00,46.41 179.54,45.95 179.08,45.52 178.63,45.12 178.17,44.75 177.71,44.40 177.25,44.09 176.79,43.79 176.33,43.52 175.88,43.26 175.42,43.00 174.96,42.76 174.50,42.54 174.04,42.33 173.59,42.14 173.13,41.96 172.67,41.79 172.21,41.64 171.75,41.49 171.29,41.36 170.84,41.23 170.38,41.11 169.92,41.01 169.46,40.90 169.00,40.81 168.55,40.73 168.09,40.65 167.63,40.57 167.17,40.50 166.71,40.44 166.25,40.38 165.80,40.33 165.34,40.28 164.88,40.25 164.42,40.23 163.96,40.21 163.51,40.20 163.05,40.19 162.59,40.19 162.13,40.19 161.67,40.19 161.21,40.19 160.76,40.20 160.30,40.21 159.84,40.22 159.38,40.24 158.92,40.25 158.46,40.27 158.01,40.29 157.55,40.31 157.09,40.34 156.63,40.36 156.17,40.39 155.72,40.42 155.26,40.45 154.80,40.48 154.34,40.51 153.88,40.55 153.42,40.58 152.97,40.62 152.51,40.66 152.05,40.69 151.59,40.73 151.13,40.77 150.68,40.82 150.22,40.86 149.76,40.91 149.30,40.99 148.84,41.06 148.38,41.13 147.93,41.21 147.47,41.28 147.01,41.36 146.55,41.43 146.09,41.51 145.64,41.58 145.18,41.66 144.72,41.74 144.26,41.82 143.80,41.89 143.34,41.97 142.89,42.05 142.43,42.13 141.97,42.21 141.51,42.29 141.05,42.37 140.60,42.45 140.14,42.53 139.68,42.62 139.22,42.70 138.76,42.78 138.30,42.86 137.85,42.94 137.39,43.03 136.93,43.11 136.47,43.19 136.01,43.27 135.56,43.36 135.10,43.44 134.64,43.52 134.18,43.61 133.72,43.69 133.26,43.77 132.81,43.86 132.35,43.94 131.89,44.02 131.43,44.11 130.97,44.19 130.52,44.28 130.06,44.36 129.60,44.45 129.14,44.53 128.68,44.61 128.22,44.70 127.77,44.78 127.31,44.87 126.85,44.95 126.39,45.04 125.93,45.12 125.47,45.21 125.02,45.29 124.56,45.38 124.10,45.46 123.64,45.55 123.18,45.63 122.73,45.72 122.27,45.80 121.81,45.89 121.35,45.97 120.89,46.06 120.43,46.14 119.98,46.23 119.52,46.32 119.06,46.41 118.60,46.51 118.14,46.60 117.69,46.69 117.23,46.79 116.77,46.88 116.31,46.97 115.85,47.07 115.39,47.16 114.94,47.25 114.48,47.35 114.02,47.44 113.56,47.53 113.10,47.63 112.65,47.72 112.19,47.81 111.73,47.91 111.27,48.00 110.81,48.09 110.35,48.19 109.90,48.28 109.44,48.37 108.98,48.47 108.52,48.56 108.06,48.65 107.61,48.75 107.15,48.84 106.69,48.93 106.23,49.03 105.77,49.12 105.31,49.21 104.86,49.31 104.40,49.40 103.94,49.49 103.48,49.59 103.02,49.68 102.57,49.77 102.11,49.87 101.65,49.96 101.19,50.05 100.73,50.15 100.27,50.24 99.82,50.33 99.36,50.43 98.90,50.52 98.44,50.62 97.98,50.72 97.53,50.81 97.07,50.91 96.61,51.00 96.15,51.10 95.69,51.19 95.23,51.29 94.78,51.38 94.32,51.48 93.86,51.57 93.40,51.67 92.94,51.76 92.48,51.86 92.03,51.95 91.57,52.05 91.11,52.14 90.65,52.24 90.19,52.33 89.74,52.43 89.28,52.52 88.82,52.62 88.36,52.71 87.90,52.81 87.44,52.91 86.99,53.00 86.53,53.10 86.07,53.19 85.61,53.29 85.15,53.38 84.70,53.48 84.24,53.58 83.78,53.67 83.32,53.77 82.86,53.86 82.40,53.96 81.95,54.05 81.49,54.15 81.03,54.25 80.57,54.34 80.11,54.44 79.66,54.53 79.20,54.63 78.74,54.73 78.28,54.82 77.82,54.92 77.36,55.02 76.91,55.11 76.45,55.21 75.99,55.31 75.53,55.40 75.07,55.50 74.62,55.60 74.16,55.69 73.70,55.79 73.24,55.89 72.78,55.98 72.32,56.08 71.87,56.18 71.41,56.28 70.95,56.37 70.49,56.47 70.03,56.57 69.58,56.67 69.12,56.76 68.66,56.86 68.20,56.96 67.74,57.06 67.28,57.16 66.83,57.25 66.37,57.35 65.91,57.45 65.45,57.55 64.99,57.65 64.54,57.75 64.08,57.85 63.62,57.94 63.16,58.04 62.70,58.14 62.24,58.24 61.79,58.34 61.33,58.44 60.87,58.54 60.41,58.64 59.95,58.74 59.49,58.84 59.04,58.94 58.58,59.04 58.12,59.14 57.66,59.24 57.20,59.34 56.75,59.44 56.29,59.54 55.83,59.64 55.37,59.74 54.91,59.85 54.45,59.95 54.00,60.05 53.54,60.15 53.08,60.25 52.62,60.35 52.16,60.46 51.71,60.56 51.25,60.66 50.79,60.76 50.33,60.87 49.87,60.97 49.41,61.07 48.96,61.18 48.50,61.28 48.04,61.38 47.58,61.49 47.12,61.59 46.67,61.69 46.21,61.80 45.75,61.90 45.29,62.01 44.83,62.11 44.37,62.22 43.92,62.32 43.46,62.43 43.00,62.53" fill="#dadada"/>
<line x1="43.0" y1="71.15" x2="345.4" y2="71.15" stroke="#8a8a8a" stroke-width="0.85" stroke-dasharray="2.1 1.14" stroke-dashoffset="0.3"/>
<path d="M43.00,59.95 L43.46,59.84 L43.92,59.73 L44.37,59.61 L44.83,59.50 L45.29,59.39 L45.75,59.28 L46.21,59.17 L46.67,59.06 L47.12,58.95 L47.58,58.83 L48.04,58.72 L48.50,58.61 L48.96,58.50 L49.41,58.39 L49.87,58.28 L50.33,58.17 L50.79,58.07 L51.25,57.96 L51.71,57.85 L52.16,57.74 L52.62,57.63 L53.08,57.52 L53.54,57.41 L54.00,57.30 L54.45,57.19 L54.91,57.09 L55.37,56.98 L55.83,56.87 L56.29,56.76 L56.75,56.66 L57.20,56.55 L57.66,56.44 L58.12,56.33 L58.58,56.23 L59.04,56.12 L59.49,56.01 L59.95,55.91 L60.41,55.80 L60.87,55.69 L61.33,55.59 L61.79,55.48 L62.24,55.37 L62.70,55.27 L63.16,55.16 L63.62,55.06 L64.08,54.95 L64.54,54.85 L64.99,54.74 L65.45,54.64 L65.91,54.53 L66.37,54.43 L66.83,54.32 L67.28,54.22 L67.74,54.11 L68.20,54.01 L68.66,53.90 L69.12,53.80 L69.58,53.69 L70.03,53.59 L70.49,53.48 L70.95,53.38 L71.41,53.28 L71.87,53.17 L72.32,53.07 L72.78,52.96 L73.24,52.86 L73.70,52.76 L74.16,52.65 L74.62,52.55 L75.07,52.44 L75.53,52.34 L75.99,52.24 L76.45,52.13 L76.91,52.03 L77.36,51.93 L77.82,51.82 L78.28,51.72 L78.74,51.62 L79.20,51.52 L79.66,51.41 L80.11,51.31 L80.57,51.21 L81.03,51.10 L81.49,51.00 L81.95,50.90 L82.40,50.80 L82.86,50.69 L83.32,50.59 L83.78,50.49 L84.24,50.39 L84.70,50.28 L85.15,50.18 L85.61,50.08 L86.07,49.98 L86.53,49.87 L86.99,49.77 L87.44,49.67 L87.90,49.57 L88.36,49.47 L88.82,49.36 L89.28,49.26 L89.74,49.16 L90.19,49.06 L90.65,48.95 L91.11,48.85 L91.57,48.75 L92.03,48.65 L92.48,48.55 L92.94,48.44 L93.40,48.34 L93.86,48.24 L94.32,48.14 L94.78,48.04 L95.23,47.94 L95.69,47.83 L96.15,47.73 L96.61,47.63 L97.07,47.53 L97.53,47.43 L97.98,47.32 L98.44,47.22 L98.90,47.12 L99.36,47.02 L99.82,46.92 L100.27,46.82 L100.73,46.71 L101.19,46.61 L101.65,46.51 L102.11,46.41 L102.57,46.31 L103.02,46.20 L103.48,46.10 L103.94,46.00 L104.40,45.90 L104.86,45.80 L105.31,45.70 L105.77,45.59 L106.23,45.49 L106.69,45.39 L107.15,45.29 L107.61,45.19 L108.06,45.08 L108.52,44.98 L108.98,44.88 L109.44,44.78 L109.90,44.68 L110.35,44.58 L110.81,44.47 L111.27,44.37 L111.73,44.27 L112.19,44.17 L112.65,44.07 L113.10,43.96 L113.56,43.86 L114.02,43.76 L114.48,43.66 L114.94,43.56 L115.39,43.45 L115.85,43.35 L116.31,43.25 L116.77,43.15 L117.23,43.05 L117.69,42.94 L118.14,42.84 L118.60,42.74 L119.06,42.64 L119.52,42.54 L119.98,42.43 L120.43,42.33 L120.89,42.23 L121.35,42.13 L121.81,42.03 L122.27,41.92 L122.73,41.82 L123.18,41.72 L123.64,41.62 L124.10,41.52 L124.56,41.41 L125.02,41.31 L125.47,41.21 L125.93,41.11 L126.39,41.01 L126.85,40.91 L127.31,40.80 L127.77,40.70 L128.22,40.60 L128.68,40.50 L129.14,40.40 L129.60,40.30 L130.06,40.20 L130.52,40.09 L130.97,39.99 L131.43,39.89 L131.89,39.79 L132.35,39.69 L132.81,39.59 L133.26,39.49 L133.72,39.39 L134.18,39.29 L134.64,39.19 L135.10,39.09 L135.56,38.99 L136.01,38.89 L136.47,38.79 L136.93,38.69 L137.39,38.59 L137.85,38.49 L138.30,38.39 L138.76,38.29 L139.22,38.19 L139.68,38.09 L140.14,37.99 L140.60,37.90 L141.05,37.80 L141.51,37.70 L141.97,37.60 L142.43,37.51 L142.89,37.41 L143.34,37.31 L143.80,37.22 L144.26,37.12 L144.72,37.03 L145.18,36.93 L145.64,36.84 L146.09,36.75 L146.55,36.65 L147.01,36.56 L147.47,36.47 L147.93,36.38 L148.38,36.28 L148.84,36.19 L149.30,36.11 L149.76,36.02 L150.22,35.93 L150.68,35.84 L151.13,35.75 L151.59,35.67 L152.05,35.58 L152.51,35.50 L152.97,35.42 L153.42,35.34 L153.88,35.25 L154.34,35.18 L154.80,35.10 L155.26,35.02 L155.72,34.94 L156.17,34.87 L156.63,34.80 L157.09,34.73 L157.55,34.66 L158.01,34.59 L158.46,34.52 L158.92,34.46 L159.38,34.40 L159.84,34.34 L160.30,34.28 L160.76,34.23 L161.21,34.17 L161.67,34.12 L162.13,34.08 L162.59,34.03 L163.05,33.99 L163.51,33.95 L163.96,33.92 L164.42,33.89 L164.88,33.86 L165.34,33.84 L165.80,33.82 L166.25,33.81 L166.71,33.80 L167.17,33.80 L167.63,33.80 L168.09,33.81 L168.55,33.82 L169.00,33.84 L169.46,33.87 L169.92,33.90 L170.38,33.95 L170.84,34.00 L171.29,34.06 L171.75,34.13 L172.21,34.21 L172.67,34.30 L173.13,34.40 L173.59,34.51 L174.04,34.64 L174.50,34.78 L174.96,34.94 L175.42,35.11 L175.88,35.30 L176.33,35.51 L176.79,35.73 L177.25,35.98 L177.71,36.26 L178.17,36.55 L178.63,36.88 L179.08,37.23 L179.54,37.61 L180.00,38.03 L180.00,38.03 L180.05,38.08 L180.10,38.12 L180.15,38.17 L180.20,38.22 L180.25,38.27 L180.30,38.32 L180.35,38.37 L180.40,38.42 L180.45,38.47 L180.50,38.53 L180.55,38.58 L180.60,38.63 L180.65,38.68 L180.70,38.74 L180.75,38.79 L180.80,38.85 L180.85,38.90 L180.90,38.96 L180.95,39.01 L181.00,39.07 L181.05,39.13 L181.10,39.19 L181.15,39.24 L181.20,39.30 L181.25,39.36 L181.30,39.42 L181.35,39.48 L181.40,39.54 L181.45,39.61 L181.50,39.67 L181.55,39.73 L181.60,39.79 L181.65,39.86 L181.70,39.92 L181.75,39.99 L181.80,40.05 L181.85,40.12 L181.90,40.19 L181.95,40.25 L182.00,40.32 L182.05,40.39 L182.10,40.46 L182.15,40.53 L182.20,40.60 L182.25,40.67 L182.30,40.74 L182.35,40.82 L182.40,40.89 L182.45,40.96 L182.50,41.04 L182.55,41.11 L182.60,41.19 L182.65,41.27 L182.70,41.34 L182.75,41.42 L182.80,41.50 L182.85,41.58 L182.90,41.66 L182.95,41.74 L183.00,41.82 L183.05,41.91 L183.10,41.99 L183.15,42.07 L183.20,42.16 L183.25,42.24 L183.30,42.33 L183.35,42.42 L183.40,42.51 L183.45,42.59 L183.51,42.68 L183.56,42.77 L183.61,42.87 L183.66,42.96 L183.71,43.05 L183.76,43.14 L183.81,43.24 L183.86,43.33 L183.91,43.43 L183.96,43.53 L184.01,43.63 L184.06,43.73 L184.11,43.83 L184.16,43.93 L184.21,44.03 L184.26,44.13 L184.31,44.24 L184.36,44.34 L184.41,44.45 L184.46,44.55 L184.51,44.66 L184.56,44.77 L184.61,44.88 L184.66,44.99 L184.71,45.10 L184.76,45.21 L184.81,45.33 L184.86,45.44 L184.91,45.56 L184.96,45.68 L185.01,45.79 L185.06,45.91 L185.11,46.03 L185.16,46.16 L185.21,46.28 L185.26,46.40 L185.31,46.53 L185.36,46.65 L185.41,46.78 L185.46,46.91 L185.51,47.04 L185.56,47.17 L185.61,47.30 L185.66,47.44 L185.71,47.57 L185.76,47.71 L185.81,47.85 L185.86,47.98 L185.91,48.12 L185.96,48.27 L186.01,48.41 L186.06,48.55 L186.11,48.70 L186.16,48.85 L186.21,48.99 L186.26,49.14 L186.31,49.29 L186.36,49.45 L186.41,49.60 L186.46,49.76 L186.51,49.91 L186.56,50.07 L186.61,50.23 L186.66,50.39 L186.71,50.56 L186.76,50.72 L186.81,50.89 L186.86,51.05 L186.91,51.22 L186.96,51.39 L187.01,51.57 L187.06,51.74 L187.11,51.92 L187.16,52.09 L187.21,52.27 L187.26,52.45 L187.31,52.64 L187.36,52.82 L187.41,53.01 L187.46,53.20 L187.51,53.39 L187.56,53.58 L187.61,53.77 L187.66,53.97 L187.71,54.16 L187.76,54.36 L187.81,54.57 L187.86,54.77 L187.91,54.97 L187.96,55.18 L188.01,55.39 L188.06,55.60 L188.11,55.81 L188.16,56.03 L188.21,56.25 L188.26,56.47 L188.31,56.69 L188.36,56.91 L188.41,57.14 L188.46,57.37 L188.51,57.60 L188.56,57.83 L188.61,58.06 L188.66,58.30 L188.71,58.54 L188.76,58.78 L188.81,59.03 L188.86,59.27 L188.91,59.52 L188.96,59.77 L189.01,60.03 L189.06,60.28 L189.11,60.54 L189.16,60.80 L189.21,61.07 L189.26,61.33 L189.31,61.60 L189.36,61.87 L189.41,62.15 L189.46,62.42 L189.51,62.70 L189.56,62.99 L189.61,63.27 L189.66,63.56 L189.71,63.85 L189.76,64.14 L189.81,64.44 L189.86,64.74 L189.91,65.04 L189.96,65.34 L190.01,65.65 L190.06,65.96 L190.11,66.28 L190.16,66.59 L190.21,66.91 L190.26,67.23 L190.31,67.56 L190.36,67.89 L190.41,68.22 L190.46,68.56 L190.52,68.89 L190.57,69.24 L190.62,69.58 L190.67,69.93 L190.72,70.28 L190.77,70.63 L190.82,70.99 L190.87,71.35 L190.92,71.72 L190.97,72.09 L191.02,72.46 L191.07,72.83 L191.12,73.21 L191.17,73.59 L191.22,73.98 L191.27,74.37 L191.32,74.76 L191.37,75.16 L191.42,75.56 L191.47,75.96 L191.52,76.37 L191.57,76.78 L191.62,77.19 L191.67,77.61 L191.72,78.03 L191.77,78.46 L191.82,78.89 L191.87,79.32 L191.92,79.76 L191.97,80.20 L192.02,80.64 L192.07,81.09 L192.12,81.55 L192.17,82.00 L192.22,82.46 L192.27,82.93 L192.32,83.39 L192.37,83.87 L192.42,84.34 L192.47,84.82 L192.52,85.31 L192.57,85.79 L192.62,86.29 L192.67,86.78 L192.72,87.28 L192.77,87.78 L192.82,88.29 L192.87,88.80 L192.92,89.32 L192.97,89.84 L193.02,90.36 L193.07,90.89 L193.12,91.42 L193.17,91.96 L193.22,92.50 L193.27,93.04 L193.32,93.59 L193.37,94.14 L193.42,94.69 L193.47,95.25 L193.52,95.81 L193.57,96.38 L193.62,96.95 L193.67,97.52 L193.72,98.10 L193.77,98.68 L193.82,99.27 L193.87,99.86 L193.92,100.45 L193.97,101.04 L194.02,101.64 L194.07,102.25 L194.12,102.85 L194.17,103.46 L194.22,104.07 L194.27,104.69 L194.32,105.31 L194.37,105.93 L194.42,106.56 L194.47,107.19 L194.52,107.82 L194.57,108.45 L194.62,109.09 L194.67,109.73 L194.72,110.37 L194.77,111.02 L194.82,111.67 L194.87,112.32 L194.92,112.97 L194.97,113.62 L195.02,114.28 L195.07,114.94 L195.12,115.60 L195.17,116.26 L195.22,116.93 L195.27,117.59 L195.32,118.26 L195.37,118.93 L195.42,119.60 L195.47,120.27 L195.52,120.95 L195.57,121.62 L195.62,122.30 L195.67,122.97 L195.72,123.65 L195.77,124.32 L195.82,125.00 L195.87,125.68 L195.92,126.35 L195.97,127.03 L196.02,127.71 L196.07,128.39 L196.12,129.06 L196.17,129.74 L196.22,130.41 L196.27,131.09 L196.32,131.76 L196.37,132.43 L196.42,133.10 L196.47,133.77 L196.52,134.44 L196.57,135.10 L196.62,135.76 L196.67,136.43 L196.72,137.08 L196.77,137.74 L196.82,138.40 L196.87,139.05 L196.92,139.70 L196.97,140.34 L197.02,140.98 L197.07,141.62 L197.12,142.26 L197.17,142.89 L197.22,143.52 L197.27,144.14 L197.32,144.76 L197.37,145.38 L197.42,145.99 L197.47,146.60 L197.53,147.20 L197.58,147.80 L197.63,148.39 L197.68,148.98 L197.73,149.56 L197.78,150.14 L197.83,150.71 L197.88,151.28 L197.93,151.84 L197.98,152.40 L198.03,152.95 L198.08,153.49 L198.13,154.03 L198.18,154.56 L198.23,155.09 L198.28,155.61 L198.33,156.12 L198.38,156.63 L198.43,157.12 L198.48,157.62 L198.53,158.10 L198.58,158.58 L198.63,159.06 L198.68,159.52 L198.73,159.98 L198.78,160.43 L198.83,160.88 L198.88,161.32 L198.93,161.75 L198.98,162.17 L199.03,162.59 L199.08,162.99 L199.13,163.40 L199.18,163.79 L199.23,164.18 L199.28,164.56 L199.33,164.93 L199.38,165.29 L199.43,165.65 L199.48,166.00 L199.53,166.34 L199.58,166.68 L199.63,167.00 L199.68,167.32 L199.73,167.64 L199.78,167.94 L199.83,168.24 L199.88,168.53 L199.93,168.81 L199.98,169.09 L200.03,169.36 L200.08,169.62 L200.13,169.87 L200.18,170.12 L200.23,170.36 L200.28,170.60 L200.33,170.82 L200.38,171.04 L200.43,171.25 L200.48,171.46 L200.53,171.66 L200.58,171.85 L200.63,172.04 L200.68,172.21 L200.73,172.39 L200.78,172.55 L200.83,172.71 L200.88,172.87 L200.93,173.01 L200.98,173.15 L201.03,173.29 L201.08,173.42 L201.13,173.54 L201.18,173.66 L201.23,173.77 L201.28,173.87 L201.33,173.97 L201.38,174.06 L201.43,174.15 L201.48,174.24 L201.53,174.31 L201.58,174.38 L201.63,174.45 L201.68,174.51 L201.73,174.57 L201.78,174.62 L201.83,174.67 L201.88,174.71 L201.93,174.75 L201.98,174.78 L202.03,174.81 L202.08,174.83 L202.13,174.85 L202.18,174.86 L202.23,174.87 L202.28,174.88 L202.33,174.88 L202.38,174.87 L202.43,174.87 L202.48,174.86 L202.53,174.84 L202.58,174.82 L202.63,174.80 L202.68,174.77 L202.73,174.75 L202.78,174.71 L202.83,174.68 L202.88,174.64 L202.93,174.59 L202.98,174.55 L203.03,174.50 L203.08,174.44 L203.13,174.39 L203.18,174.33 L203.23,174.27 L203.28,174.20 L203.33,174.13 L203.38,174.06 L203.43,173.99 L203.48,173.91 L203.53,173.84 L203.58,173.76 L203.63,173.67 L203.68,173.59 L203.73,173.50 L203.78,173.41 L203.83,173.32 L203.88,173.22 L203.93,173.12 L203.98,173.03 L204.03,172.92 L204.08,172.82 L204.13,172.72 L204.18,172.61 L204.23,172.50 L204.28,172.39 L204.33,172.28 L204.38,172.16 L204.43,172.05 L204.48,171.93 L204.54,171.81 L204.59,171.69 L204.64,171.57 L204.69,171.45 L204.74,171.32 L204.79,171.20 L204.84,171.07 L204.89,170.94 L204.94,170.81 L204.99,170.68 L205.04,170.55 L205.09,170.41 L205.14,170.28 L205.19,170.14 L205.24,170.01 L205.29,169.87 L205.34,169.73 L205.39,169.59 L205.44,169.45 L205.49,169.31 L205.54,169.17 L205.59,169.02 L205.64,168.88 L205.69,168.73 L205.74,168.59 L205.79,168.44 L205.84,168.29 L205.89,168.15 L205.94,168.00 L205.99,167.85 L206.04,167.70 L206.09,167.55 L206.14,167.40 L206.19,167.25 L206.24,167.10 L206.29,166.94 L206.34,166.79 L206.39,166.64 L206.44,166.48 L206.49,166.33 L206.54,166.17 L206.59,166.02 L206.64,165.86 L206.69,165.71 L206.74,165.55 L206.79,165.40 L206.84,165.24 L206.89,165.08 L206.94,164.93 L206.99,164.77 L207.04,164.61 L207.09,164.45 L207.14,164.30 L207.19,164.14 L207.24,163.98 L207.29,163.82 L207.34,163.66 L207.39,163.50 L207.44,163.35 L207.49,163.19 L207.54,163.03 L207.59,162.87 L207.64,162.71 L207.69,162.55 L207.74,162.39 L207.79,162.23 L207.84,162.07 L207.89,161.91 L207.94,161.75 L207.99,161.60 L208.04,161.44 L208.09,161.28 L208.14,161.12 L208.19,160.96 L208.24,160.80 L208.29,160.64 L208.34,160.48 L208.39,160.32 L208.44,160.16 L208.49,160.01 L208.54,159.85 L208.59,159.69 L208.64,159.53 L208.69,159.37 L208.74,159.21 L208.79,159.06 L208.84,158.90 L208.89,158.74 L208.94,158.58 L208.99,158.43 L209.04,158.27 L209.09,158.11 L209.14,157.96 L209.19,157.80 L209.24,157.64 L209.29,157.49 L209.34,157.33 L209.39,157.17 L209.44,157.02 L209.49,156.86 L209.54,156.71 L209.59,156.55 L209.64,156.40 L209.69,156.24 L209.74,156.09 L209.79,155.94 L209.84,155.78 L209.89,155.63 L209.94,155.48 L209.99,155.32 L210.04,155.17 L210.09,155.02 L210.14,154.87 L210.19,154.71 L210.24,154.56 L210.29,154.41 L210.34,154.26 L210.39,154.11 L210.44,153.96 L210.49,153.81 L210.54,153.66 L210.59,153.51 L210.64,153.36 L210.69,153.21 L210.74,153.06 L210.79,152.91 L210.84,152.76 L210.89,152.61 L210.94,152.47 L210.99,152.32 L211.04,152.17 L211.09,152.03 L211.14,151.88 L211.19,151.73 L211.24,151.59 L211.29,151.44 L211.34,151.30 L211.39,151.15 L211.44,151.01 L211.49,150.86 L211.55,150.72 L211.60,150.57 L211.65,150.43 L211.70,150.29 L211.75,150.14 L211.80,150.00 L211.85,149.86 L211.90,149.72 L211.95,149.58 L212.00,149.44 L212.05,149.29 L212.10,149.15 L212.15,149.01 L212.20,148.87 L212.25,148.73 L212.30,148.60 L212.35,148.46 L212.40,148.32 L212.45,148.18 L212.50,148.04 L212.55,147.90 L212.60,147.77 L212.65,147.63 L212.70,147.49 L212.75,147.36 L212.80,147.22 L212.85,147.08 L212.90,146.95 L212.95,146.81 L213.00,146.68 L213.05,146.55 L213.10,146.41 L213.15,146.28 L213.20,146.14 L213.25,146.01 L213.30,145.88 L213.35,145.75 L213.40,145.61 L213.45,145.48 L213.50,145.35 L213.55,145.22 L213.60,145.09 L213.65,144.96 L213.70,144.83 L213.75,144.70 L213.80,144.57 L213.85,144.44 L213.90,144.31 L213.95,144.18 L214.00,144.05 L214.05,143.93 L214.10,143.80 L214.15,143.67 L214.20,143.54 L214.25,143.42 L214.30,143.29 L214.35,143.16 L214.40,143.04 L214.45,142.91 L214.50,142.79 L214.55,142.66 L214.60,142.54 L214.65,142.42 L214.70,142.29 L214.75,142.17 L214.80,142.04 L214.85,141.92 L214.90,141.80 L214.95,141.68 L215.00,141.55 L215.00,141.55 L215.44,140.51 L215.87,139.48 L216.31,138.47 L216.74,137.49 L217.18,136.53 L217.62,135.59 L218.05,134.67 L218.49,133.77 L218.93,132.89 L219.36,132.02 L219.80,131.18 L220.23,130.35 L220.67,129.54 L221.11,128.74 L221.54,127.96 L221.98,127.20 L222.41,126.45 L222.85,125.72 L223.29,125.00 L223.72,124.29 L224.16,123.60 L224.59,122.92 L225.03,122.25 L225.47,121.60 L225.90,120.95 L226.34,120.32 L226.78,119.70 L227.21,119.09 L227.65,118.49 L228.08,117.90 L228.52,117.32 L228.96,116.75 L229.39,116.19 L229.83,115.64 L230.26,115.10 L230.70,114.56 L231.14,114.04 L231.57,113.52 L232.01,113.01 L232.44,112.51 L232.88,112.01 L233.32,111.53 L233.75,111.05 L234.19,110.57 L234.63,110.11 L235.06,109.65 L235.50,109.19 L235.93,108.75 L236.37,108.30 L236.81,107.87 L237.24,107.44 L237.68,107.02 L238.11,106.60 L238.55,106.19 L238.99,105.78 L239.42,105.38 L239.86,104.98 L240.29,104.59 L240.73,104.20 L241.17,103.82 L241.60,103.44 L242.04,103.07 L242.48,102.70 L242.91,102.33 L243.35,101.97 L243.78,101.62 L244.22,101.26 L244.66,100.92 L245.09,100.57 L245.53,100.23 L245.96,99.89 L246.40,99.56 L246.84,99.23 L247.27,98.90 L247.71,98.58 L248.15,98.26 L248.58,97.95 L249.02,97.63 L249.45,97.32 L249.89,97.02 L250.33,96.71 L250.76,96.41 L251.20,96.11 L251.63,95.82 L252.07,95.53 L252.51,95.24 L252.94,94.95 L253.38,94.67 L253.81,94.39 L254.25,94.11 L254.69,93.83 L255.12,93.56 L255.56,93.29 L256.00,93.02 L256.43,92.75 L256.87,92.49 L257.30,92.23 L257.74,91.97 L258.18,91.71 L258.61,91.45 L259.05,91.20 L259.48,90.95 L259.92,90.70 L260.36,90.45 L260.79,90.21 L261.23,89.97 L261.66,89.73 L262.10,89.49 L262.54,89.25 L262.97,89.01 L263.41,88.78 L263.85,88.55 L264.28,88.32 L264.72,88.09 L265.15,87.86 L265.59,87.64 L266.03,87.41 L266.46,87.19 L266.90,86.97 L267.33,86.75 L267.77,86.54 L268.21,86.32 L268.64,86.11 L269.08,85.89 L269.52,85.68 L269.95,85.47 L270.39,85.26 L270.82,85.06 L271.26,84.85 L271.70,84.65 L272.13,84.44 L272.57,84.24 L273.00,84.04 L273.44,83.84 L273.88,83.64 L274.31,83.45 L274.75,83.25 L275.18,83.06 L275.62,82.87 L276.06,82.67 L276.49,82.48 L276.93,82.29 L277.37,82.11 L277.80,81.92 L278.24,81.73 L278.67,81.55 L279.11,81.36 L279.55,81.18 L279.98,81.00 L280.42,80.82 L280.85,80.64 L281.29,80.46 L281.73,80.28 L282.16,80.10 L282.60,79.93 L283.03,79.75 L283.47,79.58 L283.91,79.41 L284.34,79.23 L284.78,79.06 L285.22,78.89 L285.65,78.72 L286.09,78.55 L286.52,78.39 L286.96,78.22 L287.40,78.05 L287.83,77.89 L288.27,77.72 L288.70,77.56 L289.14,77.40 L289.58,77.23 L290.01,77.07 L290.45,76.91 L290.88,76.75 L291.32,76.59 L291.76,76.44 L292.19,76.28 L292.63,76.12 L293.07,75.96 L293.50,75.81 L293.94,75.65 L294.37,75.50 L294.81,75.35 L295.25,75.19 L295.68,75.04 L296.12,74.89 L296.55,74.74 L296.99,74.59 L297.43,74.44 L297.86,74.29 L298.30,74.14 L298.74,74.00 L299.17,73.85 L299.61,73.70 L300.04,73.56 L300.48,73.41 L300.92,73.27 L301.35,73.13 L301.79,72.98 L302.22,72.84 L302.66,72.70 L303.10,72.56 L303.53,72.41 L303.97,72.27 L304.40,72.13 L304.84,71.99 L305.28,71.85 L305.71,71.72 L306.15,71.58 L306.59,71.44 L307.02,71.30 L307.46,71.17 L307.89,71.03 L308.33,70.90 L308.77,70.76 L309.20,70.63 L309.64,70.49 L310.07,70.36 L310.51,70.23 L310.95,70.09 L311.38,69.96 L311.82,69.83 L312.25,69.70 L312.69,69.57 L313.13,69.44 L313.56,69.31 L314.00,69.18 L314.44,69.05 L314.87,68.92 L315.31,68.79 L315.74,68.66 L316.18,68.53 L316.62,68.41 L317.05,68.28 L317.49,68.15 L317.92,68.03 L318.36,67.90 L318.80,67.78 L319.23,67.65 L319.67,67.53 L320.11,67.40 L320.54,67.28 L320.98,67.16 L321.41,67.03 L321.85,66.91 L322.29,66.79 L322.72,66.66 L323.16,66.54 L323.59,66.42 L324.03,66.30 L324.47,66.18 L324.90,66.06 L325.34,65.94 L325.77,65.82 L326.21,65.70 L326.65,65.58 L327.08,65.46 L327.52,65.34 L327.96,65.23 L328.39,65.11 L328.83,64.99 L329.26,64.87 L329.70,64.76 L330.14,64.64 L330.57,64.52 L331.01,64.41 L331.44,64.29 L331.88,64.17 L332.32,64.06 L332.75,63.94 L333.19,63.83 L333.62,63.71 L334.06,63.60 L334.50,63.49 L334.93,63.37 L335.37,63.26 L335.81,63.14 L336.24,63.03 L336.68,62.92 L337.11,62.81 L337.55,62.69 L337.99,62.58 L338.42,62.47 L338.86,62.36 L339.29,62.25 L339.73,62.14 L340.17,62.02 L340.60,61.91 L341.04,61.80 L341.47,61.69 L341.91,61.58 L342.35,61.47 L342.78,61.36 L343.22,61.25 L343.66,61.14 L344.09,61.04 L344.53,60.93 L344.96,60.82 L345.40,60.71" fill="none" stroke="#3a3a3a" stroke-width="1.0"/>
<line x1="44.60" y1="62.10" x2="44.60" y2="64.50" stroke="#3c3c3c" stroke-width="0.9"/><circle cx="44.60" cy="63.30" r="2.05" fill="#1b7cc6" stroke="#2a2a2a" stroke-width="0.85"/>
<line x1="146.30" y1="35.70" x2="146.30" y2="38.10" stroke="#3c3c3c" stroke-width="0.9"/><circle cx="146.30" cy="36.90" r="2.05" fill="#1b7cc6" stroke="#2a2a2a" stroke-width="0.85"/>
<line x1="163.00" y1="32.60" x2="163.00" y2="35.00" stroke="#3c3c3c" stroke-width="0.9"/><circle cx="163.00" cy="33.80" r="2.05" fill="#1b7cc6" stroke="#2a2a2a" stroke-width="0.85"/>
<line x1="187.90" y1="54.40" x2="187.90" y2="56.80" stroke="#3c3c3c" stroke-width="0.9"/><circle cx="187.90" cy="55.60" r="2.05" fill="#1b7cc6" stroke="#2a2a2a" stroke-width="0.85"/>
<line x1="189.90" y1="60.60" x2="189.90" y2="63.00" stroke="#3c3c3c" stroke-width="0.9"/><circle cx="189.90" cy="61.80" r="2.05" fill="#1b7cc6" stroke="#2a2a2a" stroke-width="0.85"/>
<line x1="191.30" y1="70.20" x2="191.30" y2="72.60" stroke="#3c3c3c" stroke-width="0.9"/><circle cx="191.30" cy="71.40" r="2.05" fill="#1b7cc6" stroke="#2a2a2a" stroke-width="0.85"/>
<line x1="195.50" y1="122.70" x2="195.50" y2="125.10" stroke="#3c3c3c" stroke-width="0.9"/><circle cx="195.50" cy="123.90" r="2.05" fill="#1b7cc6" stroke="#2a2a2a" stroke-width="0.85"/>
<line x1="198.20" y1="154.40" x2="198.20" y2="156.80" stroke="#3c3c3c" stroke-width="0.9"/><circle cx="198.20" cy="155.60" r="2.05" fill="#1b7cc6" stroke="#2a2a2a" stroke-width="0.85"/>
<line x1="203.20" y1="172.90" x2="203.20" y2="175.30" stroke="#3c3c3c" stroke-width="0.9"/><circle cx="203.20" cy="174.10" r="2.05" fill="#1b7cc6" stroke="#2a2a2a" stroke-width="0.85"/>
<line x1="231.00" y1="116.40" x2="231.00" y2="118.80" stroke="#3c3c3c" stroke-width="0.9"/><circle cx="231.00" cy="117.60" r="2.05" fill="#1b7cc6" stroke="#2a2a2a" stroke-width="0.85"/>
<line x1="280.90" y1="74.50" x2="280.90" y2="76.90" stroke="#3c3c3c" stroke-width="0.9"/><circle cx="280.90" cy="75.70" r="2.05" fill="#1b7cc6" stroke="#2a2a2a" stroke-width="0.85"/>
<line x1="52.40" y1="46.90" x2="52.40" y2="55.30" stroke="#3c3c3c" stroke-width="0.9"/><circle cx="52.40" cy="51.10" r="2.05" fill="#e0181e" stroke="#2a2a2a" stroke-width="0.85"/>
<line x1="65.50" y1="56.20" x2="65.50" y2="64.60" stroke="#3c3c3c" stroke-width="0.9"/><circle cx="65.50" cy="60.40" r="2.05" fill="#e0181e" stroke="#2a2a2a" stroke-width="0.85"/>
<line x1="74.20" y1="33.50" x2="74.20" y2="41.90" stroke="#3c3c3c" stroke-width="0.9"/><circle cx="74.20" cy="37.70" r="2.05" fill="#e0181e" stroke="#2a2a2a" stroke-width="0.85"/>
<line x1="114.50" y1="35.70" x2="114.50" y2="44.10" stroke="#3c3c3c" stroke-width="0.9"/><circle cx="114.50" cy="39.90" r="2.05" fill="#e0181e" stroke="#2a2a2a" stroke-width="0.85"/>
<line x1="114.50" y1="45.20" x2="114.50" y2="53.60" stroke="#3c3c3c" stroke-width="0.9"/><circle cx="114.50" cy="49.40" r="2.05" fill="#e0181e" stroke="#2a2a2a" stroke-width="0.85"/>
<line x1="120.20" y1="31.70" x2="120.20" y2="40.10" stroke="#3c3c3c" stroke-width="0.9"/><circle cx="120.20" cy="35.90" r="2.05" fill="#e0181e" stroke="#2a2a2a" stroke-width="0.85"/>
<line x1="173.50" y1="37.30" x2="173.50" y2="45.70" stroke="#3c3c3c" stroke-width="0.9"/><circle cx="173.50" cy="41.50" r="2.05" fill="#e0181e" stroke="#2a2a2a" stroke-width="0.85"/>
<line x1="207.80" y1="162.20" x2="207.80" y2="170.60" stroke="#3c3c3c" stroke-width="0.9"/><circle cx="207.80" cy="166.40" r="2.05" fill="#e0181e" stroke="#2a2a2a" stroke-width="0.85"/>
<line x1="234.60" y1="105.20" x2="234.60" y2="113.60" stroke="#3c3c3c" stroke-width="0.9"/><circle cx="234.60" cy="109.40" r="2.05" fill="#e0181e" stroke="#2a2a2a" stroke-width="0.85"/>
<line x1="239.70" y1="93.70" x2="239.70" y2="102.10" stroke="#3c3c3c" stroke-width="0.9"/><circle cx="239.70" cy="97.90" r="2.05" fill="#e0181e" stroke="#2a2a2a" stroke-width="0.85"/>
<line x1="248.70" y1="90.00" x2="248.70" y2="98.40" stroke="#3c3c3c" stroke-width="0.9"/><circle cx="248.70" cy="94.20" r="2.05" fill="#e0181e" stroke="#2a2a2a" stroke-width="0.85"/>
<line x1="253.80" y1="97.60" x2="253.80" y2="106.00" stroke="#3c3c3c" stroke-width="0.9"/><circle cx="253.80" cy="101.80" r="2.05" fill="#e0181e" stroke="#2a2a2a" stroke-width="0.85"/>
<line x1="266.50" y1="81.70" x2="266.50" y2="90.10" stroke="#3c3c3c" stroke-width="0.9"/><circle cx="266.50" cy="85.90" r="2.05" fill="#e0181e" stroke="#2a2a2a" stroke-width="0.85"/>
<line x1="283.90" y1="69.70" x2="283.90" y2="78.10" stroke="#3c3c3c" stroke-width="0.9"/><circle cx="283.90" cy="73.90" r="2.05" fill="#e0181e" stroke="#2a2a2a" stroke-width="0.85"/>
<line x1="293.30" y1="89.10" x2="293.30" y2="97.50" stroke="#3c3c3c" stroke-width="0.9"/><circle cx="293.30" cy="93.30" r="2.05" fill="#e0181e" stroke="#2a2a2a" stroke-width="0.85"/>
<line x1="315.10" y1="58.50" x2="315.10" y2="66.90" stroke="#3c3c3c" stroke-width="0.9"/><circle cx="315.10" cy="62.70" r="2.05" fill="#e0181e" stroke="#2a2a2a" stroke-width="0.85"/>
<line x1="317.50" y1="69.40" x2="317.50" y2="77.80" stroke="#3c3c3c" stroke-width="0.9"/><circle cx="317.50" cy="73.60" r="2.05" fill="#e0181e" stroke="#2a2a2a" stroke-width="0.85"/>
<line x1="325.70" y1="69.70" x2="325.70" y2="78.10" stroke="#3c3c3c" stroke-width="0.9"/><circle cx="325.70" cy="73.90" r="2.05" fill="#e0181e" stroke="#2a2a2a" stroke-width="0.85"/>
<line x1="344.80" y1="56.70" x2="344.80" y2="65.10" stroke="#3c3c3c" stroke-width="0.9"/><circle cx="344.80" cy="60.90" r="2.05" fill="#e0181e" stroke="#2a2a2a" stroke-width="0.85"/>
</g>
<g clip-path="url(#cr)">
<polygon points="43.00,232.70 43.46,232.69 43.92,232.69 44.37,232.68 44.83,232.68 45.29,232.67 45.75,232.67 46.21,232.66 46.67,232.65 47.12,232.65 47.58,232.64 48.04,232.64 48.50,232.63 48.96,232.63 49.41,232.62 49.87,232.62 50.33,232.61 50.79,232.60 51.25,232.60 51.71,232.59 52.16,232.59 52.62,232.58 53.08,232.58 53.54,232.57 54.00,232.56 54.45,232.56 54.91,232.55 55.37,232.55 55.83,232.54 56.29,232.54 56.75,232.53 57.20,232.53 57.66,232.52 58.12,232.51 58.58,232.51 59.04,232.50 59.49,232.50 59.95,232.49 60.41,232.49 60.87,232.48 61.33,232.47 61.79,232.47 62.24,232.46 62.70,232.46 63.16,232.45 63.62,232.45 64.08,232.44 64.54,232.44 64.99,232.43 65.45,232.42 65.91,232.42 66.37,232.41 66.83,232.41 67.28,232.40 67.74,232.40 68.20,232.39 68.66,232.38 69.12,232.38 69.58,232.37 70.03,232.37 70.49,232.36 70.95,232.36 71.41,232.35 71.87,232.35 72.32,232.34 72.78,232.33 73.24,232.33 73.70,232.32 74.16,232.32 74.62,232.31 75.07,232.31 75.53,232.30 75.99,232.29 76.45,232.29 76.91,232.28 77.36,232.28 77.82,232.27 78.28,232.27 78.74,232.26 79.20,232.26 79.66,232.25 80.11,232.24 80.57,232.24 81.03,232.23 81.49,232.23 81.95,232.22 82.40,232.22 82.86,232.21 83.32,232.20 83.78,232.20 84.24,232.19 84.70,232.19 85.15,232.18 85.61,232.18 86.07,232.17 86.53,232.17 86.99,232.16 87.44,232.15 87.90,232.15 88.36,232.14 88.82,232.14 89.28,232.13 89.74,232.13 90.19,232.12 90.65,232.11 91.11,232.11 91.57,232.10 92.03,232.10 92.48,232.09 92.94,232.09 93.40,232.08 93.86,232.08 94.32,232.07 94.78,232.06 95.23,232.06 95.69,232.05 96.15,232.05 96.61,232.04 97.07,232.04 97.53,232.03 97.98,232.02 98.44,232.02 98.90,232.01 99.36,232.01 99.82,232.00 100.27,231.99 100.73,231.99 101.19,231.98 101.65,231.97 102.11,231.96 102.57,231.95 103.02,231.94 103.48,231.93 103.94,231.92 104.40,231.91 104.86,231.90 105.31,231.89 105.77,231.88 106.23,231.88 106.69,231.87 107.15,231.86 107.61,231.85 108.06,231.84 108.52,231.83 108.98,231.82 109.44,231.81 109.90,231.80 110.35,231.79 110.81,231.78 111.27,231.77 111.73,231.77 112.19,231.76 112.65,231.75 113.10,231.74 113.56,231.73 114.02,231.72 114.48,231.71 114.94,231.70 115.39,231.69 115.85,231.68 116.31,231.67 116.77,231.66 117.23,231.66 117.69,231.65 118.14,231.64 118.60,231.63 119.06,231.62 119.52,231.61 119.98,231.60 120.43,231.59 120.89,231.58 121.35,231.57 121.81,231.56 122.27,231.55 122.73,231.54 123.18,231.53 123.64,231.52 124.10,231.50 124.56,231.49 125.02,231.48 125.47,231.47 125.93,231.46 126.39,231.45 126.85,231.44 127.31,231.43 127.77,231.42 128.22,231.41 128.68,231.40 129.14,231.39 129.60,231.38 130.06,231.37 130.52,231.35 130.97,231.34 131.43,231.33 131.89,231.32 132.35,231.31 132.81,231.30 133.26,231.29 133.72,231.28 134.18,231.27 134.64,231.26 135.10,231.25 135.56,231.24 136.01,231.23 136.47,231.22 136.93,231.20 137.39,231.19 137.85,231.18 138.30,231.17 138.76,231.16 139.22,231.15 139.68,231.14 140.14,231.13 140.60,231.12 141.05,231.11 141.51,231.10 141.97,231.09 142.43,231.08 142.89,231.07 143.34,231.06 143.80,231.04 144.26,231.03 144.72,231.02 145.18,231.01 145.64,231.00 146.09,230.99 146.55,230.98 147.01,230.97 147.47,230.96 147.93,230.95 148.38,230.94 148.84,230.93 149.30,230.92 149.76,230.91 150.22,230.88 150.68,230.85 151.13,230.82 151.59,230.78 152.05,230.75 152.51,230.72 152.97,230.68 153.42,230.65 153.88,230.62 154.34,230.58 154.80,230.55 155.26,230.51 155.72,230.48 156.17,230.45 156.63,230.41 157.09,230.38 157.55,230.35 158.01,230.31 158.46,230.28 158.92,230.25 159.38,230.21 159.84,230.18 160.30,230.14 160.76,230.11 161.21,230.08 161.67,230.04 162.13,230.01 162.59,229.98 163.05,229.94 163.51,229.91 163.96,229.88 164.42,229.84 164.88,229.81 165.34,229.76 165.80,229.71 166.25,229.65 166.71,229.60 167.17,229.54 167.63,229.49 168.09,229.44 168.55,229.38 169.00,229.33 169.46,229.27 169.92,229.22 170.38,229.16 170.84,229.11 171.29,229.06 171.75,229.00 172.21,228.95 172.67,228.89 173.13,228.84 173.59,228.79 174.04,228.73 174.50,228.68 174.96,228.62 175.42,228.57 175.88,228.51 176.33,228.47 176.79,228.43 177.25,228.39 177.71,228.35 178.17,228.30 178.63,228.26 179.08,228.22 179.54,228.18 180.00,228.14 180.00,228.14 180.05,228.14 180.10,228.13 180.15,228.13 180.20,228.12 180.25,228.12 180.30,228.11 180.35,228.11 180.40,228.10 180.45,228.10 180.50,228.09 180.55,228.09 180.60,228.09 180.65,228.08 180.70,228.08 180.75,228.07 180.80,228.07 180.85,228.06 180.90,228.06 180.95,228.05 181.00,228.05 181.05,228.05 181.10,228.04 181.15,228.04 181.20,228.03 181.25,228.03 181.30,228.02 181.35,228.02 181.40,228.01 181.45,228.01 181.50,228.00 181.55,228.00 181.60,228.00 181.65,227.99 181.70,227.99 181.75,227.98 181.80,227.98 181.85,227.97 181.90,227.97 181.95,227.96 182.00,227.96 182.05,227.96 182.10,227.95 182.15,227.95 182.20,227.94 182.25,227.94 182.30,227.93 182.35,227.93 182.40,227.92 182.45,227.92 182.50,227.91 182.55,227.91 182.60,227.91 182.65,227.90 182.70,227.90 182.75,227.89 182.80,227.89 182.85,227.88 182.90,227.88 182.95,227.87 183.00,227.87 183.05,227.87 183.10,227.86 183.15,227.86 183.20,227.85 183.25,227.85 183.30,227.84 183.35,227.84 183.40,227.83 183.45,227.83 183.51,227.82 183.56,227.82 183.61,227.82 183.66,227.81 183.71,227.81 183.76,227.80 183.81,227.80 183.86,227.79 183.91,227.79 183.96,227.78 184.01,227.78 184.06,227.77 184.11,227.77 184.16,227.77 184.21,227.76 184.26,227.76 184.31,227.75 184.36,227.75 184.41,227.74 184.46,227.74 184.51,227.73 184.56,227.73 184.61,227.73 184.66,227.72 184.71,227.72 184.76,227.71 184.81,227.71 184.86,227.70 184.91,227.70 184.96,227.69 185.01,227.69 185.06,227.68 185.11,227.68 185.16,227.68 185.21,227.67 185.26,227.67 185.31,227.66 185.36,227.66 185.41,227.65 185.46,227.65 185.51,227.64 185.56,227.64 185.61,227.64 185.66,227.63 185.71,227.63 185.76,227.62 185.81,227.62 185.86,227.61 185.91,227.61 185.96,227.60 186.01,227.60 186.06,227.60 186.11,227.60 186.16,227.60 186.21,227.60 186.26,227.60 186.31,227.60 186.36,227.60 186.41,227.60 186.46,227.61 186.51,227.61 186.56,227.61 186.61,227.61 186.66,227.61 186.71,227.61 186.76,227.61 186.81,227.61 186.86,227.61 186.91,227.61 186.96,227.61 187.01,227.61 187.06,227.61 187.11,227.61 187.16,227.61 187.21,227.61 187.26,227.61 187.31,227.62 187.36,227.62 187.41,227.62 187.46,227.62 187.51,227.62 187.56,227.62 187.61,227.62 187.66,227.62 187.71,227.62 187.76,227.62 187.81,227.62 187.86,227.62 187.91,227.62 187.96,227.62 188.01,227.62 188.06,227.62 188.11,227.62 188.16,227.63 188.21,227.63 188.26,227.63 188.31,227.63 188.36,227.63 188.41,227.63 188.46,227.63 188.51,227.63 188.56,227.63 188.61,227.63 188.66,227.63 188.71,227.63 188.76,227.63 188.81,227.63 188.86,227.63 188.91,227.63 188.96,227.63 189.01,227.64 189.06,227.64 189.11,227.64 189.16,227.64 189.21,227.64 189.26,227.64 189.31,227.64 189.36,227.64 189.41,227.64 189.46,227.64 189.51,227.64 189.56,227.64 189.61,227.64 189.66,227.64 189.71,227.64 189.76,227.64 189.81,227.64 189.86,227.65 189.91,227.65 189.96,227.65 190.01,227.65 190.06,227.65 190.11,227.65 190.16,227.65 190.21,227.65 190.26,227.65 190.31,227.65 190.36,227.65 190.41,227.65 190.46,227.65 190.52,227.65 190.57,227.65 190.62,227.65 190.67,227.65 190.72,227.66 190.77,227.66 190.82,227.66 190.87,227.66 190.92,227.66 190.97,227.66 191.02,227.66 191.07,227.66 191.12,227.66 191.17,227.66 191.22,227.66 191.27,227.66 191.32,227.66 191.37,227.66 191.42,227.66 191.47,227.66 191.52,227.66 191.57,227.67 191.62,227.67 191.67,227.67 191.72,227.67 191.77,227.67 191.82,227.67 191.87,227.67 191.92,227.67 191.97,227.67 192.02,227.67 192.07,227.67 192.12,227.67 192.17,227.67 192.22,227.67 192.27,227.67 192.32,227.67 192.37,227.67 192.42,227.68 192.47,227.68 192.52,227.68 192.57,227.68 192.62,227.68 192.67,227.68 192.72,227.68 192.77,227.68 192.82,227.68 192.87,227.68 192.92,227.68 192.97,227.68 193.02,227.68 193.07,227.68 193.12,227.68 193.17,227.68 193.22,227.68 193.27,227.69 193.32,227.69 193.37,227.69 193.42,227.69 193.47,227.69 193.52,227.69 193.57,227.69 193.62,227.69 193.67,227.69 193.72,227.69 193.77,227.69 193.82,227.69 193.87,227.69 193.92,227.69 193.97,227.69 194.02,227.69 194.07,227.69 194.12,227.70 194.17,227.70 194.22,227.70 194.27,227.70 194.32,227.70 194.37,227.70 194.42,227.70 194.47,227.70 194.52,227.67 194.57,227.60 194.62,227.53 194.67,227.46 194.72,227.39 194.77,227.32 194.82,227.25 194.87,227.17 194.92,227.10 194.97,227.03 195.02,226.96 195.07,226.89 195.12,226.82 195.17,226.75 195.22,226.68 195.27,226.61 195.32,226.54 195.37,226.46 195.42,226.39 195.47,226.32 195.52,226.25 195.57,226.18 195.62,226.11 195.67,226.04 195.72,225.98 195.77,225.92 195.82,225.87 195.87,225.82 195.92,225.76 195.97,225.71 196.02,225.66 196.07,225.61 196.12,225.55 196.17,225.50 196.22,225.45 196.27,225.39 196.32,225.34 196.37,225.29 196.42,225.23 196.47,225.18 196.52,225.13 196.57,225.07 196.62,225.02 196.67,224.97 196.72,224.92 196.77,224.86 196.82,224.81 196.87,224.76 196.92,224.70 196.97,224.65 197.02,224.60 197.07,224.54 197.12,224.49 197.17,224.44 197.22,224.39 197.27,224.33 197.32,224.28 197.37,224.23 197.42,224.19 197.47,224.18 197.53,224.16 197.58,224.14 197.63,224.12 197.68,224.11 197.73,224.09 197.78,224.07 197.83,224.06 197.88,224.04 197.93,224.02 197.98,224.01 198.03,223.99 198.08,223.97 198.13,223.96 198.18,223.94 198.23,223.92 198.28,223.91 198.33,223.89 198.38,223.87 198.43,223.86 198.48,223.84 198.53,223.82 198.58,223.81 198.63,223.79 198.68,223.77 198.73,223.76 198.78,223.74 198.83,223.72 198.88,223.71 198.93,223.69 198.98,223.67 199.03,223.66 199.08,223.64 199.13,223.62 199.18,223.61 199.23,223.61 199.28,223.62 199.33,223.63 199.38,223.64 199.43,223.65 199.48,223.66 199.53,223.67 199.58,223.68 199.63,223.70 199.68,223.71 199.73,223.72 199.78,223.73 199.83,223.74 199.88,223.75 199.93,223.76 199.98,223.77 200.03,223.78 200.08,223.80 200.13,223.81 200.18,223.82 200.23,223.83 200.28,223.84 200.33,223.85 200.38,223.86 200.43,223.87 200.48,223.88 200.53,223.90 200.58,223.91 200.63,223.92 200.68,223.93 200.73,223.94 200.78,223.95 200.83,223.96 200.88,223.97 200.93,223.98 200.98,224.00 201.03,224.03 201.08,224.08 201.13,224.13 201.18,224.18 201.23,224.23 201.28,224.28 201.33,224.33 201.38,224.38 201.43,224.43 201.48,224.48 201.53,224.53 201.58,224.58 201.63,224.63 201.68,224.68 201.73,224.73 201.78,224.78 201.83,224.83 201.88,224.88 201.93,224.93 201.98,224.98 202.03,225.03 202.08,225.08 202.13,225.13 202.18,225.18 202.23,225.23 202.28,225.28 202.33,225.33 202.38,225.38 202.43,225.43 202.48,225.48 202.53,225.53 202.58,225.58 202.63,225.63 202.68,225.68 202.73,225.73 202.78,225.78 202.83,225.83 202.88,225.88 202.93,225.93 202.98,225.98 203.03,226.00 203.08,226.01 203.13,226.02 203.18,226.03 203.23,226.03 203.28,226.04 203.33,226.05 203.38,226.06 203.43,226.07 203.48,226.07 203.53,226.08 203.58,226.09 203.63,226.10 203.68,226.10 203.73,226.11 203.78,226.12 203.83,226.13 203.88,226.13 203.93,226.14 203.98,226.15 204.03,226.16 204.08,226.16 204.13,226.17 204.18,226.18 204.23,226.19 204.28,226.19 204.33,226.20 204.38,226.21 204.43,226.22 204.48,226.22 204.54,226.23 204.59,226.24 204.64,226.25 204.69,226.25 204.74,226.26 204.79,226.27 204.84,226.28 204.89,226.28 204.94,226.29 204.99,226.30 205.04,226.31 205.09,226.31 205.14,226.32 205.19,226.33 205.24,226.34 205.29,226.34 205.34,226.35 205.39,226.36 205.44,226.37 205.49,226.37 205.54,226.38 205.59,226.39 205.64,226.40 205.69,226.40 205.74,226.41 205.79,226.42 205.84,226.43 205.89,226.43 205.94,226.44 205.99,226.45 206.04,226.46 206.09,226.46 206.14,226.47 206.19,226.48 206.24,226.49 206.29,226.49 206.34,226.50 206.39,226.51 206.44,226.52 206.49,226.52 206.54,226.53 206.59,226.54 206.64,226.55 206.69,226.55 206.74,226.56 206.79,226.57 206.84,226.58 206.89,226.58 206.94,226.59 206.99,226.60 207.04,226.60 207.09,226.61 207.14,226.62 207.19,226.62 207.24,226.63 207.29,226.63 207.34,226.64 207.39,226.64 207.44,226.65 207.49,226.66 207.54,226.66 207.59,226.67 207.64,226.67 207.69,226.68 207.74,226.68 207.79,226.69 207.84,226.70 207.89,226.70 207.94,226.71 207.99,226.71 208.04,226.72 208.09,226.72 208.14,226.73 208.19,226.74 208.24,226.74 208.29,226.75 208.34,226.75 208.39,226.76 208.44,226.76 208.49,226.77 208.54,226.78 208.59,226.78 208.64,226.79 208.69,226.79 208.74,226.80 208.79,226.80 208.84,226.81 208.89,226.82 208.94,226.82 208.99,226.83 209.04,226.83 209.09,226.84 209.14,226.84 209.19,226.85 209.24,226.86 209.29,226.86 209.34,226.87 209.39,226.87 209.44,226.88 209.49,226.88 209.54,226.89 209.59,226.90 209.64,226.90 209.69,226.91 209.74,226.91 209.79,226.92 209.84,226.92 209.89,226.93 209.94,226.94 209.99,226.94 210.04,226.95 210.09,226.95 210.14,226.96 210.19,226.96 210.24,226.97 210.29,226.98 210.34,226.98 210.39,226.99 210.44,226.99 210.49,227.00 210.54,227.00 210.59,227.01 210.64,227.01 210.69,227.02 210.74,227.02 210.79,227.03 210.84,227.03 210.89,227.04 210.94,227.04 210.99,227.04 211.04,227.05 211.09,227.05 211.14,227.06 211.19,227.06 211.24,227.07 211.29,227.07 211.34,227.08 211.39,227.08 211.44,227.09 211.49,227.09 211.55,227.10 211.60,227.10 211.65,227.10 211.70,227.11 211.75,227.11 211.80,227.12 211.85,227.12 211.90,227.13 211.95,227.13 212.00,227.14 212.05,227.14 212.10,227.15 212.15,227.15 212.20,227.15 212.25,227.16 212.30,227.16 212.35,227.17 212.40,227.17 212.45,227.18 212.50,227.18 212.55,227.19 212.60,227.19 212.65,227.20 212.70,227.20 212.75,227.20 212.80,227.21 212.85,227.21 212.90,227.22 212.95,227.22 213.00,227.23 213.05,227.23 213.10,227.24 213.15,227.24 213.20,227.25 213.25,227.25 213.30,227.25 213.35,227.26 213.40,227.26 213.45,227.27 213.50,227.27 213.55,227.28 213.60,227.28 213.65,227.29 213.70,227.29 213.75,227.30 213.80,227.30 213.85,227.30 213.90,227.31 213.95,227.31 214.00,227.32 214.05,227.32 214.10,227.33 214.15,227.33 214.20,227.34 214.25,227.34 214.30,227.35 214.35,227.35 214.40,227.35 214.45,227.36 214.50,227.36 214.55,227.37 214.60,227.37 214.65,227.38 214.70,227.38 214.75,227.39 214.80,227.39 214.85,227.40 214.90,227.40 214.95,227.40 215.00,227.41 215.00,227.41 215.44,227.45 215.87,227.49 216.31,227.54 216.74,227.59 217.18,227.64 217.62,227.69 218.05,227.74 218.49,227.79 218.93,227.84 219.36,227.89 219.80,227.94 220.23,227.99 220.67,228.04 221.11,228.10 221.54,228.15 221.98,228.20 222.41,228.25 222.85,228.29 223.29,228.34 223.72,228.39 224.16,228.44 224.59,228.48 225.03,228.53 225.47,228.58 225.90,228.63 226.34,228.67 226.78,228.72 227.21,228.77 227.65,228.82 228.08,228.86 228.52,228.91 228.96,228.96 229.39,229.01 229.83,229.05 230.26,229.10 230.70,229.15 231.14,229.20 231.57,229.24 232.01,229.29 232.44,229.34 232.88,229.39 233.32,229.43 233.75,229.47 234.19,229.51 234.63,229.55 235.06,229.59 235.50,229.64 235.93,229.68 236.37,229.72 236.81,229.76 237.24,229.80 237.68,229.84 238.11,229.88 238.55,229.92 238.99,229.96 239.42,230.00 239.86,230.05 240.29,230.09 240.73,230.13 241.17,230.17 241.60,230.21 242.04,230.25 242.48,230.29 242.91,230.33 243.35,230.37 243.78,230.41 244.22,230.46 244.66,230.50 245.09,230.54 245.53,230.58 245.96,230.62 246.40,230.66 246.84,230.70 247.27,230.74 247.71,230.78 248.15,230.83 248.58,230.87 249.02,230.91 249.45,230.95 249.89,230.99 250.33,231.01 250.76,231.02 251.20,231.04 251.63,231.05 252.07,231.07 252.51,231.08 252.94,231.09 253.38,231.11 253.81,231.12 254.25,231.14 254.69,231.15 255.12,231.16 255.56,231.18 256.00,231.19 256.43,231.21 256.87,231.22 257.30,231.23 257.74,231.25 258.18,231.26 258.61,231.28 259.05,231.29 259.48,231.30 259.92,231.32 260.36,231.33 260.79,231.35 261.23,231.36 261.66,231.37 262.10,231.39 262.54,231.40 262.97,231.42 263.41,231.43 263.85,231.44 264.28,231.46 264.72,231.47 265.15,231.48 265.59,231.50 266.03,231.51 266.46,231.53 266.90,231.54 267.33,231.55 267.77,231.57 268.21,231.58 268.64,231.60 269.08,231.61 269.52,231.62 269.95,231.64 270.39,231.65 270.82,231.67 271.26,231.68 271.70,231.69 272.13,231.71 272.57,231.72 273.00,231.74 273.44,231.75 273.88,231.76 274.31,231.78 274.75,231.79 275.18,231.81 275.62,231.82 276.06,231.83 276.49,231.85 276.93,231.86 277.37,231.88 277.80,231.89 278.24,231.90 278.67,231.92 279.11,231.93 279.55,231.95 279.98,231.96 280.42,231.97 280.85,231.99 281.29,232.00 281.73,232.02 282.16,232.03 282.60,232.04 283.03,232.06 283.47,232.07 283.91,232.09 284.34,232.10 284.78,232.11 285.22,232.13 285.65,232.14 286.09,232.15 286.52,232.17 286.96,232.18 287.40,232.20 287.83,232.21 288.27,232.22 288.70,232.24 289.14,232.25 289.58,232.27 290.01,232.28 290.45,232.29 290.88,232.31 291.32,232.32 291.76,232.34 292.19,232.35 292.63,232.36 293.07,232.38 293.50,232.39 293.94,232.41 294.37,232.42 294.81,232.43 295.25,232.45 295.68,232.46 296.12,232.48 296.55,232.49 296.99,232.50 297.43,232.52 297.86,232.53 298.30,232.55 298.74,232.56 299.17,232.57 299.61,232.59 300.04,232.60 300.48,232.61 300.92,232.62 301.35,232.63 301.79,232.64 302.22,232.65 302.66,232.66 303.10,232.67 303.53,232.68 303.97,232.69 304.40,232.70 304.84,232.71 305.28,232.72 305.71,232.73 306.15,232.74 306.59,232.75 307.02,232.76 307.46,232.77 307.89,232.78 308.33,232.79 308.77,232.79 309.20,232.80 309.64,232.81 310.07,232.82 310.51,232.83 310.95,232.84 311.38,232.85 311.82,232.86 312.25,232.87 312.69,232.88 313.13,232.89 313.56,232.90 314.00,232.91 314.44,232.92 314.87,232.93 315.31,232.94 315.74,232.95 316.18,232.96 316.62,232.97 317.05,232.98 317.49,232.99 317.92,233.00 318.36,233.01 318.80,233.02 319.23,233.03 319.67,233.04 320.11,233.05 320.54,233.06 320.98,233.07 321.41,233.08 321.85,233.09 322.29,233.10 322.72,233.10 323.16,233.11 323.59,233.12 324.03,233.13 324.47,233.14 324.90,233.15 325.34,233.16 325.77,233.17 326.21,233.18 326.65,233.19 327.08,233.20 327.52,233.21 327.96,233.22 328.39,233.23 328.83,233.24 329.26,233.25 329.70,233.26 330.14,233.27 330.57,233.28 331.01,233.29 331.44,233.30 331.88,233.31 332.32,233.32 332.75,233.33 333.19,233.34 333.62,233.35 334.06,233.36 334.50,233.37 334.93,233.38 335.37,233.39 335.81,233.40 336.24,233.41 336.68,233.42 337.11,233.42 337.55,233.43 337.99,233.44 338.42,233.45 338.86,233.46 339.29,233.47 339.73,233.48 340.17,233.49 340.60,233.50 341.04,233.51 341.47,233.52 341.91,233.53 342.35,233.54 342.78,233.55 343.22,233.56 343.66,233.57 344.09,233.58 344.53,233.59 344.96,233.60 345.40,233.60 345.40,237.90 344.96,237.90 344.53,237.91 344.09,237.92 343.66,237.93 343.22,237.94 342.78,237.95 342.35,237.96 341.91,237.97 341.47,237.98 341.04,237.99 340.60,238.00 340.17,238.01 339.73,238.02 339.29,238.03 338.86,238.04 338.42,238.05 337.99,238.06 337.55,238.07 337.11,238.08 336.68,238.08 336.24,238.09 335.81,238.10 335.37,238.11 334.93,238.12 334.50,238.13 334.06,238.14 333.62,238.15 333.19,238.16 332.75,238.17 332.32,238.18 331.88,238.19 331.44,238.20 331.01,238.21 330.57,238.22 330.14,238.23 329.70,238.24 329.26,238.25 328.83,238.26 328.39,238.27 327.96,238.28 327.52,238.29 327.08,238.30 326.65,238.31 326.21,238.32 325.77,238.33 325.34,238.34 324.90,238.35 324.47,238.36 324.03,238.37 323.59,238.38 323.16,238.39 322.72,238.40 322.29,238.40 321.85,238.41 321.41,238.42 320.98,238.43 320.54,238.44 320.11,238.45 319.67,238.46 319.23,238.47 318.80,238.48 318.36,238.49 317.92,238.50 317.49,238.51 317.05,238.52 316.62,238.53 316.18,238.54 315.74,238.55 315.31,238.56 314.87,238.57 314.44,238.58 314.00,238.59 313.56,238.60 313.13,238.61 312.69,238.62 312.25,238.63 311.82,238.64 311.38,238.65 310.95,238.66 310.51,238.67 310.07,238.68 309.64,238.69 309.20,238.70 308.77,238.71 308.33,238.71 307.89,238.72 307.46,238.73 307.02,238.74 306.59,238.75 306.15,238.76 305.71,238.77 305.28,238.78 304.84,238.79 304.40,238.80 303.97,238.81 303.53,238.82 303.10,238.83 302.66,238.84 302.22,238.85 301.79,238.86 301.35,238.87 300.92,238.88 300.48,238.89 300.04,238.90 299.61,238.91 299.17,238.92 298.74,238.93 298.30,238.94 297.86,238.95 297.43,238.96 296.99,238.97 296.55,238.98 296.12,238.99 295.68,238.99 295.25,239.00 294.81,239.01 294.37,239.02 293.94,239.03 293.50,239.04 293.07,239.05 292.63,239.06 292.19,239.07 291.76,239.08 291.32,239.09 290.88,239.10 290.45,239.11 290.01,239.12 289.58,239.13 289.14,239.14 288.70,239.15 288.27,239.16 287.83,239.17 287.40,239.18 286.96,239.19 286.52,239.20 286.09,239.21 285.65,239.22 285.22,239.23 284.78,239.23 284.34,239.24 283.91,239.25 283.47,239.26 283.03,239.27 282.60,239.28 282.16,239.29 281.73,239.30 281.29,239.31 280.85,239.32 280.42,239.33 279.98,239.34 279.55,239.35 279.11,239.36 278.67,239.37 278.24,239.38 277.80,239.39 277.37,239.40 276.93,239.41 276.49,239.42 276.06,239.43 275.62,239.44 275.18,239.45 274.75,239.46 274.31,239.47 273.88,239.47 273.44,239.48 273.00,239.49 272.57,239.50 272.13,239.51 271.70,239.52 271.26,239.53 270.82,239.54 270.39,239.55 269.95,239.56 269.52,239.57 269.08,239.58 268.64,239.59 268.21,239.60 267.77,239.61 267.33,239.62 266.90,239.63 266.46,239.64 266.03,239.65 265.59,239.66 265.15,239.67 264.72,239.68 264.28,239.69 263.85,239.70 263.41,239.70 262.97,239.71 262.54,239.72 262.10,239.73 261.66,239.74 261.23,239.75 260.79,239.76 260.36,239.77 259.92,239.78 259.48,239.79 259.05,239.80 258.61,239.81 258.18,239.82 257.74,239.83 257.30,239.84 256.87,239.85 256.43,239.86 256.00,239.87 255.56,239.88 255.12,239.89 254.69,239.90 254.25,239.91 253.81,239.92 253.38,239.93 252.94,239.94 252.51,239.94 252.07,239.95 251.63,239.96 251.20,239.97 250.76,239.98 250.33,239.99 249.89,240.01 249.45,240.06 249.02,240.11 248.58,240.16 248.15,240.21 247.71,240.26 247.27,240.30 246.84,240.35 246.40,240.40 245.96,240.45 245.53,240.50 245.09,240.55 244.66,240.60 244.22,240.65 243.78,240.69 243.35,240.74 242.91,240.79 242.48,240.84 242.04,240.89 241.60,240.94 241.17,240.99 240.73,241.04 240.29,241.08 239.86,241.13 239.42,241.18 238.99,241.23 238.55,241.28 238.11,241.33 237.68,241.38 237.24,241.43 236.81,241.47 236.37,241.52 235.93,241.57 235.50,241.62 235.06,241.67 234.63,241.72 234.19,241.77 233.75,241.82 233.32,241.86 232.88,241.94 232.44,242.07 232.01,242.20 231.57,242.33 231.14,242.46 230.70,242.59 230.26,242.72 229.83,242.85 229.39,242.98 228.96,243.11 228.52,243.24 228.08,243.37 227.65,243.51 227.21,243.64 226.78,243.77 226.34,243.90 225.90,244.03 225.47,244.16 225.03,244.29 224.59,244.42 224.16,244.55 223.72,244.68 223.29,244.81 222.85,244.94 222.41,245.08 221.98,245.21 221.54,245.38 221.11,245.54 220.67,245.71 220.23,245.88 219.80,246.04 219.36,246.21 218.93,246.38 218.49,246.55 218.05,246.71 217.62,246.88 217.18,247.05 216.74,247.21 216.31,247.38 215.87,247.56 215.44,247.76 215.00,247.95 215.00,247.95 214.95,247.98 214.90,248.00 214.85,248.02 214.80,248.05 214.75,248.07 214.70,248.09 214.65,248.11 214.60,248.14 214.55,248.16 214.50,248.18 214.45,248.20 214.40,248.23 214.35,248.25 214.30,248.27 214.25,248.30 214.20,248.32 214.15,248.34 214.10,248.36 214.05,248.39 214.00,248.41 213.95,248.43 213.90,248.46 213.85,248.48 213.80,248.50 213.75,248.52 213.70,248.55 213.65,248.57 213.60,248.59 213.55,248.61 213.50,248.64 213.45,248.66 213.40,248.68 213.35,248.71 213.30,248.73 213.25,248.75 213.20,248.77 213.15,248.80 213.10,248.82 213.05,248.84 213.00,248.86 212.95,248.89 212.90,248.91 212.85,248.93 212.80,248.96 212.75,248.98 212.70,249.00 212.65,249.02 212.60,249.05 212.55,249.07 212.50,249.09 212.45,249.12 212.40,249.14 212.35,249.16 212.30,249.18 212.25,249.21 212.20,249.23 212.15,249.25 212.10,249.27 212.05,249.30 212.00,249.32 211.95,249.34 211.90,249.37 211.85,249.39 211.80,249.41 211.75,249.43 211.70,249.46 211.65,249.48 211.60,249.50 211.55,249.52 211.49,249.55 211.44,249.57 211.39,249.59 211.34,249.62 211.29,249.64 211.24,249.66 211.19,249.68 211.14,249.71 211.09,249.73 211.04,249.75 210.99,249.78 210.94,249.80 210.89,249.82 210.84,249.84 210.79,249.87 210.74,249.89 210.69,249.91 210.64,249.93 210.59,249.96 210.54,249.98 210.49,250.00 210.44,250.02 210.39,250.05 210.34,250.07 210.29,250.09 210.24,250.11 210.19,250.13 210.14,250.15 210.09,250.17 210.04,250.20 209.99,250.22 209.94,250.24 209.89,250.26 209.84,250.28 209.79,250.30 209.74,250.32 209.69,250.35 209.64,250.37 209.59,250.39 209.54,250.41 209.49,250.43 209.44,250.45 209.39,250.47 209.34,250.50 209.29,250.52 209.24,250.54 209.19,250.56 209.14,250.58 209.09,250.60 209.04,250.63 208.99,250.65 208.94,250.67 208.89,250.69 208.84,250.71 208.79,250.73 208.74,250.75 208.69,250.78 208.64,250.80 208.59,250.82 208.54,250.84 208.49,250.86 208.44,250.88 208.39,250.90 208.34,250.93 208.29,250.95 208.24,250.97 208.19,250.99 208.14,251.01 208.09,251.03 208.04,251.05 207.99,251.08 207.94,251.10 207.89,251.12 207.84,251.14 207.79,251.16 207.74,251.18 207.69,251.20 207.64,251.23 207.59,251.25 207.54,251.27 207.49,251.29 207.44,251.31 207.39,251.33 207.34,251.35 207.29,251.38 207.24,251.40 207.19,251.42 207.14,251.44 207.09,251.46 207.04,251.48 206.99,251.50 206.94,251.50 206.89,251.50 206.84,251.50 206.79,251.51 206.74,251.51 206.69,251.51 206.64,251.51 206.59,251.51 206.54,251.51 206.49,251.51 206.44,251.51 206.39,251.52 206.34,251.52 206.29,251.52 206.24,251.52 206.19,251.52 206.14,251.52 206.09,251.52 206.04,251.52 205.99,251.53 205.94,251.53 205.89,251.53 205.84,251.53 205.79,251.53 205.74,251.53 205.69,251.53 205.64,251.53 205.59,251.54 205.54,251.54 205.49,251.54 205.44,251.54 205.39,251.54 205.34,251.54 205.29,251.54 205.24,251.54 205.19,251.55 205.14,251.55 205.09,251.55 205.04,251.55 204.99,251.55 204.94,251.55 204.89,251.55 204.84,251.55 204.79,251.56 204.74,251.56 204.69,251.56 204.64,251.56 204.59,251.56 204.54,251.56 204.48,251.56 204.43,251.56 204.38,251.57 204.33,251.57 204.28,251.57 204.23,251.57 204.18,251.57 204.13,251.57 204.08,251.57 204.03,251.57 203.98,251.58 203.93,251.58 203.88,251.58 203.83,251.58 203.78,251.58 203.73,251.58 203.68,251.58 203.63,251.58 203.58,251.59 203.53,251.59 203.48,251.59 203.43,251.59 203.38,251.59 203.33,251.59 203.28,251.59 203.23,251.59 203.18,251.60 203.13,251.60 203.08,251.60 203.03,251.60 202.98,251.60 202.93,251.59 202.88,251.58 202.83,251.57 202.78,251.57 202.73,251.56 202.68,251.55 202.63,251.54 202.58,251.54 202.53,251.53 202.48,251.52 202.43,251.51 202.38,251.51 202.33,251.50 202.28,251.49 202.23,251.48 202.18,251.48 202.13,251.47 202.08,251.46 202.03,251.45 201.98,251.45 201.93,251.44 201.88,251.43 201.83,251.42 201.78,251.42 201.73,251.41 201.68,251.40 201.63,251.39 201.58,251.39 201.53,251.38 201.48,251.37 201.43,251.36 201.38,251.36 201.33,251.35 201.28,251.34 201.23,251.33 201.18,251.33 201.13,251.32 201.08,251.31 201.03,251.30 200.98,251.30 200.93,251.29 200.88,251.28 200.83,251.27 200.78,251.26 200.73,251.25 200.68,251.25 200.63,251.24 200.58,251.23 200.53,251.22 200.48,251.21 200.43,251.20 200.38,251.20 200.33,251.19 200.28,251.18 200.23,251.17 200.18,251.16 200.13,251.15 200.08,251.15 200.03,251.14 199.98,251.13 199.93,251.12 199.88,251.11 199.83,251.10 199.78,251.10 199.73,251.09 199.68,251.08 199.63,251.07 199.58,251.06 199.53,251.05 199.48,251.05 199.43,251.04 199.38,251.03 199.33,251.02 199.28,251.01 199.23,251.00 199.18,250.99 199.13,250.98 199.08,250.97 199.03,250.95 198.98,250.94 198.93,250.92 198.88,250.91 198.83,250.90 198.78,250.88 198.73,250.87 198.68,250.85 198.63,250.84 198.58,250.83 198.53,250.81 198.48,250.80 198.43,250.79 198.38,250.77 198.33,250.76 198.28,250.74 198.23,250.73 198.18,250.72 198.13,250.70 198.08,250.69 198.03,250.67 197.98,250.66 197.93,250.65 197.88,250.63 197.83,250.62 197.78,250.60 197.73,250.59 197.68,250.58 197.63,250.56 197.58,250.55 197.53,250.53 197.47,250.52 197.42,250.51 197.37,250.46 197.32,250.39 197.27,250.32 197.22,250.24 197.17,250.17 197.12,250.09 197.07,250.02 197.02,249.95 196.97,249.87 196.92,249.80 196.87,249.73 196.82,249.65 196.77,249.58 196.72,249.51 196.67,249.43 196.62,249.36 196.57,249.28 196.52,249.21 196.47,249.14 196.42,249.06 196.37,248.99 196.32,248.92 196.27,248.84 196.22,248.77 196.17,248.70 196.12,248.62 196.07,248.55 196.02,248.47 195.97,248.40 195.92,248.33 195.87,248.25 195.82,248.18 195.77,248.11 195.72,248.03 195.67,247.95 195.62,247.87 195.57,247.79 195.52,247.70 195.47,247.62 195.42,247.54 195.37,247.45 195.32,247.37 195.27,247.29 195.22,247.20 195.17,247.12 195.12,247.04 195.07,246.95 195.02,246.87 194.97,246.79 194.92,246.70 194.87,246.62 194.82,246.54 194.77,246.45 194.72,246.37 194.67,246.28 194.62,246.20 194.57,246.12 194.52,246.03 194.47,246.00 194.42,245.99 194.37,245.99 194.32,245.99 194.27,245.98 194.22,245.98 194.17,245.98 194.12,245.97 194.07,245.97 194.02,245.97 193.97,245.96 193.92,245.96 193.87,245.96 193.82,245.95 193.77,245.95 193.72,245.94 193.67,245.94 193.62,245.94 193.57,245.93 193.52,245.93 193.47,245.93 193.42,245.92 193.37,245.92 193.32,245.92 193.27,245.91 193.22,245.91 193.17,245.91 193.12,245.90 193.07,245.90 193.02,245.90 192.97,245.89 192.92,245.89 192.87,245.88 192.82,245.88 192.77,245.88 192.72,245.87 192.67,245.87 192.62,245.87 192.57,245.86 192.52,245.86 192.47,245.86 192.42,245.85 192.37,245.85 192.32,245.85 192.27,245.84 192.22,245.84 192.17,245.84 192.12,245.83 192.07,245.83 192.02,245.82 191.97,245.82 191.92,245.82 191.87,245.81 191.82,245.81 191.77,245.81 191.72,245.80 191.67,245.80 191.62,245.80 191.57,245.79 191.52,245.79 191.47,245.79 191.42,245.78 191.37,245.78 191.32,245.78 191.27,245.77 191.22,245.77 191.17,245.76 191.12,245.76 191.07,245.76 191.02,245.75 190.97,245.75 190.92,245.75 190.87,245.74 190.82,245.74 190.77,245.74 190.72,245.73 190.67,245.73 190.62,245.73 190.57,245.72 190.52,245.72 190.46,245.72 190.41,245.71 190.36,245.71 190.31,245.70 190.26,245.70 190.21,245.70 190.16,245.69 190.11,245.69 190.06,245.69 190.01,245.68 189.96,245.68 189.91,245.68 189.86,245.67 189.81,245.67 189.76,245.67 189.71,245.66 189.66,245.66 189.61,245.66 189.56,245.65 189.51,245.65 189.46,245.64 189.41,245.64 189.36,245.64 189.31,245.63 189.26,245.63 189.21,245.63 189.16,245.62 189.11,245.62 189.06,245.62 189.01,245.61 188.96,245.61 188.91,245.61 188.86,245.60 188.81,245.60 188.76,245.60 188.71,245.59 188.66,245.59 188.61,245.58 188.56,245.58 188.51,245.58 188.46,245.57 188.41,245.57 188.36,245.57 188.31,245.56 188.26,245.56 188.21,245.56 188.16,245.55 188.11,245.55 188.06,245.55 188.01,245.54 187.96,245.54 187.91,245.53 187.86,245.53 187.81,245.53 187.76,245.52 187.71,245.52 187.66,245.52 187.61,245.51 187.56,245.51 187.51,245.51 187.46,245.50 187.41,245.50 187.36,245.50 187.31,245.49 187.26,245.49 187.21,245.49 187.16,245.48 187.11,245.48 187.06,245.47 187.01,245.47 186.96,245.47 186.91,245.46 186.86,245.46 186.81,245.46 186.76,245.45 186.71,245.45 186.66,245.45 186.61,245.44 186.56,245.44 186.51,245.44 186.46,245.43 186.41,245.43 186.36,245.43 186.31,245.42 186.26,245.42 186.21,245.41 186.16,245.41 186.11,245.41 186.06,245.40 186.01,245.40 185.96,245.40 185.91,245.39 185.86,245.38 185.81,245.38 185.76,245.37 185.71,245.37 185.66,245.36 185.61,245.36 185.56,245.35 185.51,245.35 185.46,245.34 185.41,245.33 185.36,245.33 185.31,245.32 185.26,245.32 185.21,245.31 185.16,245.31 185.11,245.30 185.06,245.30 185.01,245.29 184.96,245.29 184.91,245.28 184.86,245.27 184.81,245.27 184.76,245.26 184.71,245.26 184.66,245.25 184.61,245.25 184.56,245.24 184.51,245.24 184.46,245.23 184.41,245.22 184.36,245.22 184.31,245.21 184.26,245.21 184.21,245.20 184.16,245.20 184.11,245.19 184.06,245.19 184.01,245.18 183.96,245.18 183.91,245.17 183.86,245.16 183.81,245.16 183.76,245.15 183.71,245.15 183.66,245.14 183.61,245.14 183.56,245.13 183.51,245.13 183.45,245.12 183.40,245.11 183.35,245.11 183.30,245.10 183.25,245.10 183.20,245.09 183.15,245.09 183.10,245.08 183.05,245.08 183.00,245.07 182.95,245.06 182.90,245.06 182.85,245.05 182.80,245.05 182.75,245.04 182.70,245.04 182.65,245.03 182.60,245.03 182.55,245.02 182.50,245.02 182.45,245.01 182.40,245.00 182.35,245.00 182.30,244.99 182.25,244.99 182.20,244.98 182.15,244.98 182.10,244.97 182.05,244.97 182.00,244.96 181.95,244.95 181.90,244.95 181.85,244.94 181.80,244.94 181.75,244.93 181.70,244.93 181.65,244.92 181.60,244.92 181.55,244.91 181.50,244.91 181.45,244.90 181.40,244.89 181.35,244.89 181.30,244.88 181.25,244.88 181.20,244.87 181.15,244.87 181.10,244.86 181.05,244.86 181.00,244.85 180.95,244.84 180.90,244.84 180.85,244.83 180.80,244.83 180.75,244.82 180.70,244.82 180.65,244.81 180.60,244.81 180.55,244.80 180.50,244.80 180.45,244.79 180.40,244.78 180.35,244.78 180.30,244.77 180.25,244.77 180.20,244.76 180.15,244.76 180.10,244.75 180.05,244.75 180.00,244.74 180.00,244.74 179.54,244.69 179.08,244.64 178.63,244.59 178.17,244.54 177.71,244.49 177.25,244.44 176.79,244.39 176.33,244.34 175.88,244.28 175.42,244.21 174.96,244.14 174.50,244.07 174.04,244.00 173.59,243.93 173.13,243.86 172.67,243.79 172.21,243.71 171.75,243.64 171.29,243.57 170.84,243.50 170.38,243.43 169.92,243.36 169.46,243.29 169.00,243.22 168.55,243.15 168.09,243.08 167.63,243.01 167.17,242.94 166.71,242.86 166.25,242.79 165.80,242.72 165.34,242.65 164.88,242.59 164.42,242.54 163.96,242.49 163.51,242.44 163.05,242.39 162.59,242.34 162.13,242.29 161.67,242.25 161.21,242.20 160.76,242.15 160.30,242.10 159.84,242.05 159.38,242.00 158.92,241.95 158.46,241.90 158.01,241.85 157.55,241.81 157.09,241.76 156.63,241.71 156.17,241.66 155.72,241.61 155.26,241.56 154.80,241.51 154.34,241.46 153.88,241.41 153.42,241.37 152.97,241.32 152.51,241.27 152.05,241.22 151.59,241.17 151.13,241.12 150.68,241.07 150.22,241.02 149.76,240.99 149.30,240.97 148.84,240.95 148.38,240.94 147.93,240.92 147.47,240.90 147.01,240.88 146.55,240.86 146.09,240.84 145.64,240.83 145.18,240.81 144.72,240.79 144.26,240.77 143.80,240.75 143.34,240.73 142.89,240.72 142.43,240.70 141.97,240.68 141.51,240.66 141.05,240.64 140.60,240.62 140.14,240.61 139.68,240.59 139.22,240.57 138.76,240.55 138.30,240.53 137.85,240.51 137.39,240.50 136.93,240.48 136.47,240.46 136.01,240.44 135.56,240.42 135.10,240.40 134.64,240.39 134.18,240.37 133.72,240.35 133.26,240.33 132.81,240.31 132.35,240.29 131.89,240.28 131.43,240.26 130.97,240.24 130.52,240.22 130.06,240.20 129.60,240.18 129.14,240.17 128.68,240.15 128.22,240.13 127.77,240.11 127.31,240.09 126.85,240.07 126.39,240.06 125.93,240.04 125.47,240.02 125.02,240.00 124.56,239.98 124.10,239.96 123.64,239.95 123.18,239.93 122.73,239.91 122.27,239.89 121.81,239.87 121.35,239.85 120.89,239.84 120.43,239.82 119.98,239.80 119.52,239.79 119.06,239.78 118.60,239.77 118.14,239.76 117.69,239.75 117.23,239.74 116.77,239.74 116.31,239.73 115.85,239.72 115.39,239.71 114.94,239.70 114.48,239.69 114.02,239.68 113.56,239.67 113.10,239.66 112.65,239.65 112.19,239.64 111.73,239.63 111.27,239.63 110.81,239.62 110.35,239.61 109.90,239.60 109.44,239.59 108.98,239.58 108.52,239.57 108.06,239.56 107.61,239.55 107.15,239.54 106.69,239.53 106.23,239.52 105.77,239.52 105.31,239.51 104.86,239.50 104.40,239.49 103.94,239.48 103.48,239.47 103.02,239.46 102.57,239.45 102.11,239.44 101.65,239.43 101.19,239.42 100.73,239.41 100.27,239.41 99.82,239.40 99.36,239.39 98.90,239.38 98.44,239.38 97.98,239.37 97.53,239.36 97.07,239.35 96.61,239.35 96.15,239.34 95.69,239.33 95.23,239.32 94.78,239.32 94.32,239.31 93.86,239.30 93.40,239.30 92.94,239.29 92.48,239.28 92.03,239.27 91.57,239.27 91.11,239.26 90.65,239.25 90.19,239.25 89.74,239.24 89.28,239.23 88.82,239.22 88.36,239.22 87.90,239.21 87.44,239.20 86.99,239.19 86.53,239.19 86.07,239.18 85.61,239.17 85.15,239.17 84.70,239.16 84.24,239.15 83.78,239.14 83.32,239.14 82.86,239.13 82.40,239.12 81.95,239.11 81.49,239.11 81.03,239.10 80.57,239.09 80.11,239.09 79.66,239.08 79.20,239.07 78.74,239.06 78.28,239.06 77.82,239.05 77.36,239.04 76.91,239.04 76.45,239.03 75.99,239.02 75.53,239.01 75.07,239.01 74.62,239.00 74.16,238.99 73.70,238.98 73.24,238.98 72.78,238.97 72.32,238.96 71.87,238.96 71.41,238.95 70.95,238.94 70.49,238.93 70.03,238.93 69.58,238.92 69.12,238.91 68.66,238.91 68.20,238.90 67.74,238.89 67.28,238.88 66.83,238.88 66.37,238.87 65.91,238.86 65.45,238.85 64.99,238.85 64.54,238.84 64.08,238.83 63.62,238.83 63.16,238.82 62.70,238.81 62.24,238.80 61.79,238.80 61.33,238.79 60.87,238.78 60.41,238.77 59.95,238.77 59.49,238.76 59.04,238.75 58.58,238.75 58.12,238.74 57.66,238.73 57.20,238.72 56.75,238.72 56.29,238.71 55.83,238.70 55.37,238.70 54.91,238.69 54.45,238.68 54.00,238.67 53.54,238.67 53.08,238.66 52.62,238.65 52.16,238.64 51.71,238.64 51.25,238.63 50.79,238.62 50.33,238.62 49.87,238.61 49.41,238.60 48.96,238.59 48.50,238.59 48.04,238.58 47.58,238.57 47.12,238.57 46.67,238.56 46.21,238.55 45.75,238.54 45.29,238.54 44.83,238.53 44.37,238.52 43.92,238.51 43.46,238.51 43.00,238.50" fill="#dadada"/>
<line x1="43.0" y1="235.72" x2="345.4" y2="235.72" stroke="#747474" stroke-width="1.5"/>
<line x1="44.60" y1="238.20" x2="44.60" y2="240.80" stroke="#3c3c3c" stroke-width="0.9"/><circle cx="44.60" cy="239.50" r="2.05" fill="#1b7cc6" stroke="#2a2a2a" stroke-width="0.85"/>
<line x1="146.30" y1="234.70" x2="146.30" y2="237.30" stroke="#3c3c3c" stroke-width="0.9"/><circle cx="146.30" cy="236.00" r="2.05" fill="#1b7cc6" stroke="#2a2a2a" stroke-width="0.85"/>
<line x1="163.00" y1="234.70" x2="163.00" y2="237.30" stroke="#3c3c3c" stroke-width="0.9"/><circle cx="163.00" cy="236.00" r="2.05" fill="#1b7cc6" stroke="#2a2a2a" stroke-width="0.85"/>
<line x1="187.90" y1="235.40" x2="187.90" y2="238.00" stroke="#3c3c3c" stroke-width="0.9"/><circle cx="187.90" cy="236.70" r="2.05" fill="#1b7cc6" stroke="#2a2a2a" stroke-width="0.85"/>
<line x1="189.90" y1="232.10" x2="189.90" y2="234.70" stroke="#3c3c3c" stroke-width="0.9"/><circle cx="189.90" cy="233.40" r="2.05" fill="#1b7cc6" stroke="#2a2a2a" stroke-width="0.85"/>
<line x1="191.30" y1="229.80" x2="191.30" y2="232.40" stroke="#3c3c3c" stroke-width="0.9"/><circle cx="191.30" cy="231.10" r="2.05" fill="#1b7cc6" stroke="#2a2a2a" stroke-width="0.85"/>
<line x1="195.50" y1="239.10" x2="195.50" y2="241.70" stroke="#3c3c3c" stroke-width="0.9"/><circle cx="195.50" cy="240.40" r="2.05" fill="#1b7cc6" stroke="#2a2a2a" stroke-width="0.85"/>
<line x1="198.20" y1="232.90" x2="198.20" y2="235.50" stroke="#3c3c3c" stroke-width="0.9"/><circle cx="198.20" cy="234.20" r="2.05" fill="#1b7cc6" stroke="#2a2a2a" stroke-width="0.85"/>
<line x1="203.20" y1="233.40" x2="203.20" y2="236.00" stroke="#3c3c3c" stroke-width="0.9"/><circle cx="203.20" cy="234.70" r="2.05" fill="#1b7cc6" stroke="#2a2a2a" stroke-width="0.85"/>
<line x1="231.00" y1="237.90" x2="231.00" y2="240.50" stroke="#3c3c3c" stroke-width="0.9"/><circle cx="231.00" cy="239.20" r="2.05" fill="#1b7cc6" stroke="#2a2a2a" stroke-width="0.85"/>
<line x1="280.90" y1="228.70" x2="280.90" y2="231.30" stroke="#3c3c3c" stroke-width="0.9"/><circle cx="280.90" cy="230.00" r="2.05" fill="#1b7cc6" stroke="#2a2a2a" stroke-width="0.85"/>
<line x1="52.40" y1="223.85" x2="52.40" y2="232.95" stroke="#3c3c3c" stroke-width="0.9"/><circle cx="52.40" cy="228.40" r="2.05" fill="#e0181e" stroke="#2a2a2a" stroke-width="0.85"/>
<line x1="65.50" y1="237.25" x2="65.50" y2="246.35" stroke="#3c3c3c" stroke-width="0.9"/><circle cx="65.50" cy="241.80" r="2.05" fill="#e0181e" stroke="#2a2a2a" stroke-width="0.85"/>
<line x1="74.20" y1="214.75" x2="74.20" y2="223.85" stroke="#3c3c3c" stroke-width="0.9"/><circle cx="74.20" cy="219.30" r="2.05" fill="#e0181e" stroke="#2a2a2a" stroke-width="0.85"/>
<line x1="114.50" y1="227.15" x2="114.50" y2="236.25" stroke="#3c3c3c" stroke-width="0.9"/><circle cx="114.50" cy="231.70" r="2.05" fill="#e0181e" stroke="#2a2a2a" stroke-width="0.85"/>
<line x1="114.50" y1="237.45" x2="114.50" y2="246.55" stroke="#3c3c3c" stroke-width="0.9"/><circle cx="114.50" cy="242.00" r="2.05" fill="#e0181e" stroke="#2a2a2a" stroke-width="0.85"/>
<line x1="120.20" y1="224.05" x2="120.20" y2="233.15" stroke="#3c3c3c" stroke-width="0.9"/><circle cx="120.20" cy="228.60" r="2.05" fill="#e0181e" stroke="#2a2a2a" stroke-width="0.85"/>
<line x1="173.50" y1="239.25" x2="173.50" y2="248.35" stroke="#3c3c3c" stroke-width="0.9"/><circle cx="173.50" cy="243.80" r="2.05" fill="#e0181e" stroke="#2a2a2a" stroke-width="0.85"/>
<line x1="207.80" y1="235.15" x2="207.80" y2="244.25" stroke="#3c3c3c" stroke-width="0.9"/><circle cx="207.80" cy="239.70" r="2.05" fill="#e0181e" stroke="#2a2a2a" stroke-width="0.85"/>
<line x1="234.60" y1="230.05" x2="234.60" y2="239.15" stroke="#3c3c3c" stroke-width="0.9"/><circle cx="234.60" cy="234.60" r="2.05" fill="#e0181e" stroke="#2a2a2a" stroke-width="0.85"/>
<line x1="239.70" y1="222.85" x2="239.70" y2="231.95" stroke="#3c3c3c" stroke-width="0.9"/><circle cx="239.70" cy="227.40" r="2.05" fill="#e0181e" stroke="#2a2a2a" stroke-width="0.85"/>
<line x1="248.70" y1="227.05" x2="248.70" y2="236.15" stroke="#3c3c3c" stroke-width="0.9"/><circle cx="248.70" cy="231.60" r="2.05" fill="#e0181e" stroke="#2a2a2a" stroke-width="0.85"/>
<line x1="253.80" y1="239.05" x2="253.80" y2="248.15" stroke="#3c3c3c" stroke-width="0.9"/><circle cx="253.80" cy="243.60" r="2.05" fill="#e0181e" stroke="#2a2a2a" stroke-width="0.85"/>
<line x1="266.50" y1="229.35" x2="266.50" y2="238.45" stroke="#3c3c3c" stroke-width="0.9"/><circle cx="266.50" cy="233.90" r="2.05" fill="#e0181e" stroke="#2a2a2a" stroke-width="0.85"/>
<line x1="283.90" y1="224.85" x2="283.90" y2="233.95" stroke="#3c3c3c" stroke-width="0.9"/><circle cx="283.90" cy="229.40" r="2.05" fill="#e0181e" stroke="#2a2a2a" stroke-width="0.85"/>
<line x1="293.30" y1="249.85" x2="293.30" y2="258.95" stroke="#3c3c3c" stroke-width="0.9"/><circle cx="293.30" cy="254.40" r="2.05" fill="#e0181e" stroke="#2a2a2a" stroke-width="0.85"/>
<line x1="315.10" y1="224.55" x2="315.10" y2="233.65" stroke="#3c3c3c" stroke-width="0.9"/><circle cx="315.10" cy="229.10" r="2.05" fill="#e0181e" stroke="#2a2a2a" stroke-width="0.85"/>
<line x1="317.50" y1="236.75" x2="317.50" y2="245.85" stroke="#3c3c3c" stroke-width="0.9"/><circle cx="317.50" cy="241.30" r="2.05" fill="#e0181e" stroke="#2a2a2a" stroke-width="0.85"/>
<line x1="325.70" y1="240.15" x2="325.70" y2="249.25" stroke="#3c3c3c" stroke-width="0.9"/><circle cx="325.70" cy="244.70" r="2.05" fill="#e0181e" stroke="#2a2a2a" stroke-width="0.85"/>
<line x1="344.80" y1="231.25" x2="344.80" y2="240.35" stroke="#3c3c3c" stroke-width="0.9"/><circle cx="344.80" cy="235.80" r="2.05" fill="#e0181e" stroke="#2a2a2a" stroke-width="0.85"/>
</g>
<rect x="43.0" y="22.2" width="302.40" height="169.50" fill="none" stroke="#3a3a3a" stroke-width="1.25"/>
<rect x="43.0" y="211.6" width="302.40" height="48.30" fill="none" stroke="#3a3a3a" stroke-width="1.25"/>
<rect x="79.54" y="199.84" width="4.69" height="0.76" fill="#000"/><text x="85.04" y="202.50" font-size="7.93" text-anchor="start" textLength="9.54" lengthAdjust="spacingAndGlyphs" style="stroke-width:0.14px;font-size:7.76px">20</text>
<rect x="79.54" y="268.14" width="4.69" height="0.76" fill="#000"/><text x="85.04" y="270.80" font-size="7.93" text-anchor="start" textLength="9.54" lengthAdjust="spacingAndGlyphs" style="stroke-width:0.14px;font-size:7.76px">20</text>
<rect x="133.26" y="199.84" width="4.69" height="0.76" fill="#000"/><text x="138.76" y="202.50" font-size="7.93" text-anchor="start" textLength="9.54" lengthAdjust="spacingAndGlyphs" style="stroke-width:0.14px;font-size:7.76px">10</text>
<rect x="133.26" y="268.14" width="4.69" height="0.76" fill="#000"/><text x="138.76" y="270.80" font-size="7.93" text-anchor="start" textLength="9.54" lengthAdjust="spacingAndGlyphs" style="stroke-width:0.14px;font-size:7.76px">10</text>
<text x="191.72" y="202.50" font-size="7.93" text-anchor="start" textLength="4.77" lengthAdjust="spacingAndGlyphs" style="stroke-width:0.14px;font-size:7.76px">0</text>
<text x="191.72" y="270.80" font-size="7.93" text-anchor="start" textLength="4.77" lengthAdjust="spacingAndGlyphs" style="stroke-width:0.14px;font-size:7.76px">0</text>
<text x="243.06" y="202.50" font-size="7.93" text-anchor="start" textLength="9.54" lengthAdjust="spacingAndGlyphs" style="stroke-width:0.14px;font-size:7.76px">10</text>
<text x="243.06" y="270.80" font-size="7.93" text-anchor="start" textLength="9.54" lengthAdjust="spacingAndGlyphs" style="stroke-width:0.14px;font-size:7.76px">10</text>
<text x="296.78" y="202.50" font-size="7.93" text-anchor="start" textLength="9.54" lengthAdjust="spacingAndGlyphs" style="stroke-width:0.14px;font-size:7.76px">20</text>
<text x="296.78" y="270.80" font-size="7.93" text-anchor="start" textLength="9.54" lengthAdjust="spacingAndGlyphs" style="stroke-width:0.14px;font-size:7.76px">20</text>
<rect x="64.59" y="12.69" width="4.69" height="0.76" fill="#000"/><text x="70.09" y="15.35" font-size="7.93" text-anchor="start" textLength="11.93" lengthAdjust="spacingAndGlyphs" style="stroke-width:0.14px;font-size:7.76px">0.4</text>
<rect x="125.19" y="12.69" width="4.69" height="0.76" fill="#000"/><text x="130.69" y="15.35" font-size="7.93" text-anchor="start" textLength="11.93" lengthAdjust="spacingAndGlyphs" style="stroke-width:0.14px;font-size:7.76px">0.2</text>
<text x="188.15" y="15.35" font-size="7.93" text-anchor="start" textLength="11.93" lengthAdjust="spacingAndGlyphs" style="stroke-width:0.14px;font-size:7.76px">0.0</text>
<text x="248.74" y="15.35" font-size="7.93" text-anchor="start" textLength="11.93" lengthAdjust="spacingAndGlyphs" style="stroke-width:0.14px;font-size:7.76px">0.2</text>
<text x="309.34" y="15.35" font-size="7.93" text-anchor="start" textLength="11.93" lengthAdjust="spacingAndGlyphs" style="stroke-width:0.14px;font-size:7.76px">0.4</text>
<text x="23.08" y="29.90" font-size="7.93" text-anchor="start" textLength="14.32" lengthAdjust="spacingAndGlyphs" style="stroke-width:0.14px;font-size:7.76px">100</text>
<text x="27.86" y="52.18" font-size="7.93" text-anchor="start" textLength="9.54" lengthAdjust="spacingAndGlyphs" style="stroke-width:0.14px;font-size:7.76px">50</text>
<text x="32.63" y="74.45" font-size="7.93" text-anchor="start" textLength="4.77" lengthAdjust="spacingAndGlyphs" style="stroke-width:0.14px;font-size:7.76px">0</text>
<rect x="22.36" y="94.06" width="4.69" height="0.76" fill="#000"/><text x="27.86" y="96.73" font-size="7.93" text-anchor="start" textLength="9.54" lengthAdjust="spacingAndGlyphs" style="stroke-width:0.14px;font-size:7.76px">50</text>
<rect x="17.59" y="116.34" width="4.69" height="0.76" fill="#000"/><text x="23.08" y="119.00" font-size="7.93" text-anchor="start" textLength="14.32" lengthAdjust="spacingAndGlyphs" style="stroke-width:0.14px;font-size:7.76px">100</text>
<rect x="17.59" y="138.61" width="4.69" height="0.76" fill="#000"/><text x="23.08" y="141.28" font-size="7.93" text-anchor="start" textLength="14.32" lengthAdjust="spacingAndGlyphs" style="stroke-width:0.14px;font-size:7.76px">150</text>
<rect x="17.59" y="160.89" width="4.69" height="0.76" fill="#000"/><text x="23.08" y="163.55" font-size="7.93" text-anchor="start" textLength="14.32" lengthAdjust="spacingAndGlyphs" style="stroke-width:0.14px;font-size:7.76px">200</text>
<rect x="17.59" y="183.16" width="4.69" height="0.76" fill="#000"/><text x="23.08" y="185.83" font-size="7.93" text-anchor="start" textLength="14.32" lengthAdjust="spacingAndGlyphs" style="stroke-width:0.14px;font-size:7.76px">250</text>
<text x="27.86" y="214.87" font-size="7.93" text-anchor="start" textLength="9.54" lengthAdjust="spacingAndGlyphs" style="stroke-width:0.14px;font-size:7.76px">50</text>
<text x="32.63" y="239.02" font-size="7.93" text-anchor="start" textLength="4.77" lengthAdjust="spacingAndGlyphs" style="stroke-width:0.14px;font-size:7.76px">0</text>
<rect x="22.36" y="260.51" width="4.69" height="0.76" fill="#000"/><text x="27.86" y="263.17" font-size="7.93" text-anchor="start" textLength="9.54" lengthAdjust="spacingAndGlyphs" style="stroke-width:0.14px;font-size:7.76px">50</text>
<path d="M86.67,191.70v3.6 M86.67,259.90v3.6 M140.39,191.70v3.6 M140.39,259.90v3.6 M194.11,191.70v3.6 M194.11,259.90v3.6 M247.83,191.70v3.6 M247.83,259.90v3.6 M301.55,191.70v3.6 M301.55,259.90v3.6 M72.91,22.20v-3.6 M133.51,22.20v-3.6 M194.11,22.20v-3.6 M254.71,22.20v-3.6 M315.31,22.20v-3.6 M43.00,26.60h-3.6 M43.00,48.88h-3.6 M43.00,71.15h-3.6 M43.00,93.43h-3.6 M43.00,115.70h-3.6 M43.00,137.98h-3.6 M43.00,160.25h-3.6 M43.00,182.53h-3.6 M43.00,211.57h-3.6 M43.00,235.72h-3.6 M43.00,259.87h-3.6" stroke="#3a3a3a" stroke-width="0.9" fill="none"/>
<text x="159.65" y="8.10" font-size="10.78" text-anchor="start" textLength="68.31" lengthAdjust="spacingAndGlyphs" style="stroke-width:0.12px">Orbital Phase</text>
<text x="138.50" y="281.60" font-size="10.78" text-anchor="start" textLength="111.66" lengthAdjust="spacingAndGlyphs" style="stroke-width:0.12px;font-size:10.25px">Days from mid-transit</text>
<g transform="translate(12.7,164.8) rotate(-90)" style="stroke-width:0.12px"><text style="stroke-width:0.12px" x="0" y="0" font-size="10.78" textLength="100.48" lengthAdjust="spacingAndGlyphs">Radial Velocity [m s</text><text x="101.38" y="-3.4" font-size="6.68" textLength="9.32" lengthAdjust="spacingAndGlyphs">−1</text><text style="stroke-width:0.12px" x="112.10" y="0" font-size="10.78" textLength="3.98" lengthAdjust="spacingAndGlyphs">]</text></g>
<g transform="translate(18.2,280.4) rotate(-90)" style="stroke-width:0.12px"><text style="stroke-width:0.12px" x="0" y="0" font-size="10.78" textLength="74.11" lengthAdjust="spacingAndGlyphs">Residuals [m s</text><text x="75.01" y="-3.4" font-size="6.68" textLength="9.32" lengthAdjust="spacingAndGlyphs">−1</text><text style="stroke-width:0.12px" x="85.73" y="0" font-size="10.78" textLength="3.98" lengthAdjust="spacingAndGlyphs">]</text></g>
<rect x="47.6" y="131.7" width="65.5" height="55.4" rx="2.2" ry="2.2" fill="#fff" fill-opacity="0.8" stroke="#d6d6d6" stroke-width="0.8"/>
<line x1="59.90" y1="134.40" x2="59.90" y2="143.80" stroke="#3c3c3c" stroke-width="0.9"/><circle cx="59.90" cy="139.10" r="2.25" fill="#1b7cc6" stroke="#2a2a2a" stroke-width="0.85"/>
<line x1="59.90" y1="147.10" x2="59.90" y2="156.50" stroke="#3c3c3c" stroke-width="0.9"/><circle cx="59.90" cy="151.80" r="2.25" fill="#e0181e" stroke="#2a2a2a" stroke-width="0.85"/>
<line x1="50.7" y1="165.45" x2="69.2" y2="165.45" stroke="#3a3a3a" stroke-width="1.0"/>
<rect x="51" y="175.3" width="18.2" height="6.2" fill="#dadada"/>
<text x="76.40" y="142.40" font-size="9.58" text-anchor="start" textLength="21.55" lengthAdjust="spacingAndGlyphs">NEID</text>
<text x="76.40" y="155.45" font-size="9.58" text-anchor="start" textLength="32.96" lengthAdjust="spacingAndGlyphs">SOPHIE</text>
<text x="76.60" y="168.70" font-size="9.58" text-anchor="start" textLength="25.70" lengthAdjust="spacingAndGlyphs">Model</text>
<text x="76.20" y="181.70" font-size="9.58" text-anchor="start" textLength="5.76" lengthAdjust="spacingAndGlyphs">3</text>
<text x="81.76" y="181.70" font-size="9.58" text-anchor="start" textLength="5.74" lengthAdjust="spacingAndGlyphs" font-style="italic">σ</text>
</svg></body></html>
